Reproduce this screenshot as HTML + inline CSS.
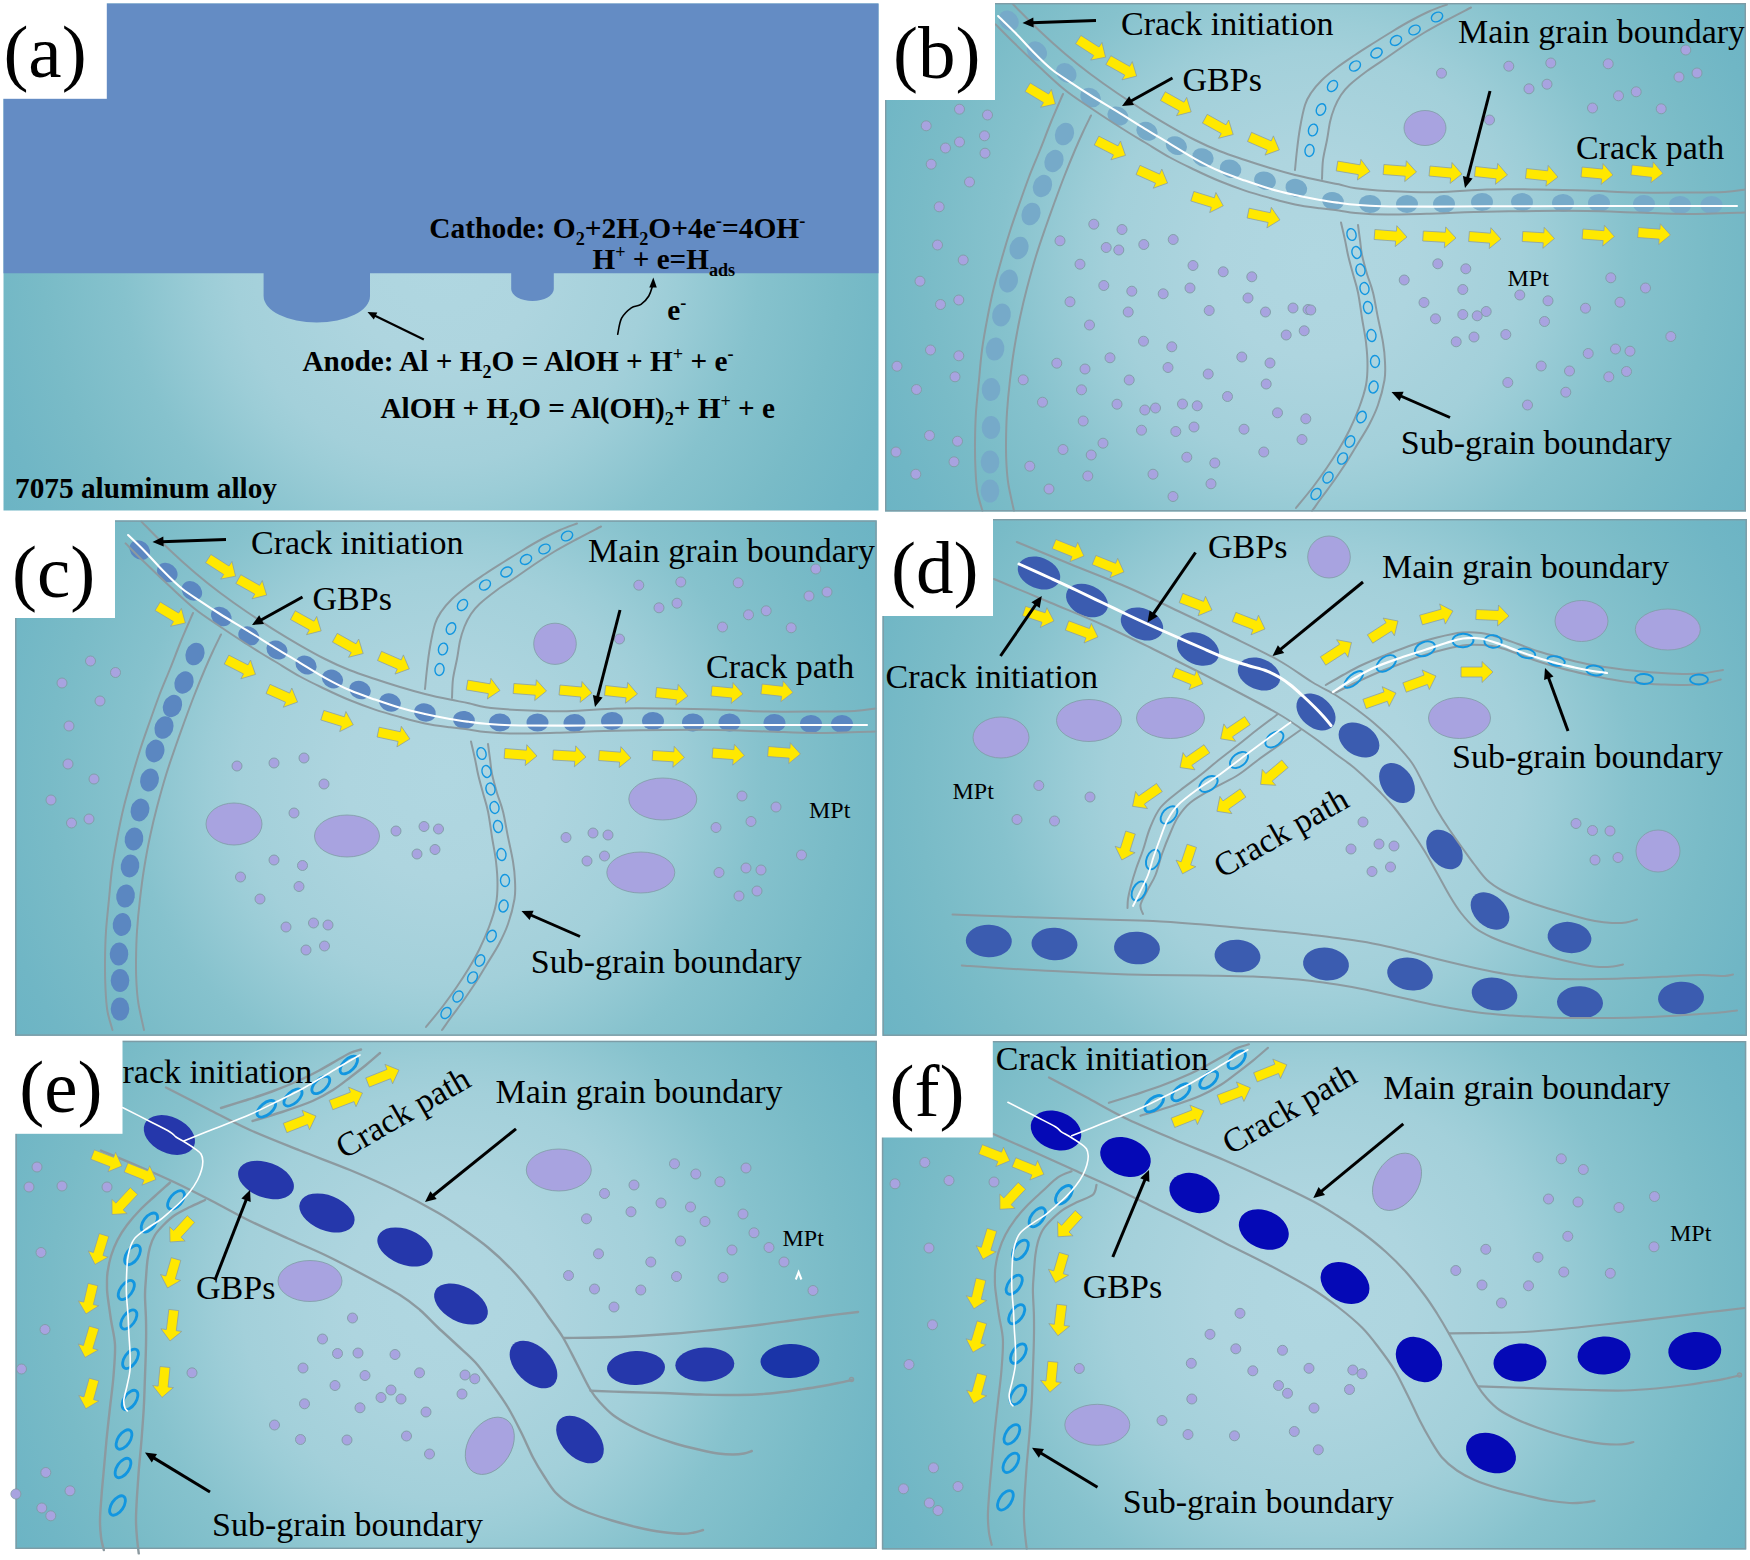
<!DOCTYPE html>
<html><head><meta charset="utf-8"><title>Figure</title>
<style>html,body{margin:0;padding:0;background:#fff}svg{display:block}</style></head>
<body>
<svg width="1750" height="1560" viewBox="0 0 1750 1560" font-family="'Liberation Serif', 'Times New Roman', serif">
<defs>
<radialGradient id="ga" gradientUnits="userSpaceOnUse" cx="0" cy="0" r="1" gradientTransform="translate(441 257) scale(505.6 505.6)">
<stop offset="0" stop-color="#b0d7e1"/><stop offset="0.2" stop-color="#aed5df"/><stop offset="0.41" stop-color="#a3d0da"/><stop offset="0.47" stop-color="#9ccdd7"/><stop offset="0.63" stop-color="#86c2cd"/><stop offset="0.79" stop-color="#79bbc7"/><stop offset="0.92" stop-color="#70b6c5"/><stop offset="1" stop-color="#6cb4c4"/>
</radialGradient>
<clipPath id="ca"><rect x="3.5" y="3.5" width="875" height="507"/></clipPath>
<radialGradient id="gb" gradientUnits="userSpaceOnUse" cx="0" cy="0" r="1" gradientTransform="translate(1315.5 257.2) scale(500 500)">
<stop offset="0" stop-color="#b0d7e1"/><stop offset="0.2" stop-color="#aed5df"/><stop offset="0.41" stop-color="#a3d0da"/><stop offset="0.47" stop-color="#9ccdd7"/><stop offset="0.63" stop-color="#86c2cd"/><stop offset="0.79" stop-color="#79bbc7"/><stop offset="0.92" stop-color="#70b6c5"/><stop offset="1" stop-color="#6cb4c4"/>
</radialGradient>
<clipPath id="cb"><rect x="885" y="3" width="861" height="508.5"/></clipPath>
<radialGradient id="gc" gradientUnits="userSpaceOnUse" cx="0" cy="0" r="1" gradientTransform="translate(445.9 778.1) scale(502 502)">
<stop offset="0" stop-color="#b0d7e1"/><stop offset="0.2" stop-color="#aed5df"/><stop offset="0.41" stop-color="#a3d0da"/><stop offset="0.47" stop-color="#9ccdd7"/><stop offset="0.63" stop-color="#86c2cd"/><stop offset="0.79" stop-color="#79bbc7"/><stop offset="0.92" stop-color="#70b6c5"/><stop offset="1" stop-color="#6cb4c4"/>
</radialGradient>
<clipPath id="cc"><rect x="15.1" y="520.4" width="861.6" height="511.3"/></clipPath>
<radialGradient id="gd" gradientUnits="userSpaceOnUse" cx="0" cy="0" r="1" gradientTransform="translate(1314.7 777.5) scale(503.6 503.6)">
<stop offset="0" stop-color="#b0d7e1"/><stop offset="0.2" stop-color="#aed5df"/><stop offset="0.41" stop-color="#a3d0da"/><stop offset="0.47" stop-color="#9ccdd7"/><stop offset="0.63" stop-color="#86c2cd"/><stop offset="0.79" stop-color="#79bbc7"/><stop offset="0.92" stop-color="#70b6c5"/><stop offset="1" stop-color="#6cb4c4"/>
</radialGradient>
<clipPath id="cd"><rect x="882.5" y="519" width="864.4" height="516.9"/></clipPath>
<radialGradient id="ge" gradientUnits="userSpaceOnUse" cx="0" cy="0" r="1" gradientTransform="translate(446.2 1294.9) scale(500.1 500.1)">
<stop offset="0" stop-color="#b0d7e1"/><stop offset="0.2" stop-color="#aed5df"/><stop offset="0.41" stop-color="#a3d0da"/><stop offset="0.47" stop-color="#9ccdd7"/><stop offset="0.63" stop-color="#86c2cd"/><stop offset="0.79" stop-color="#79bbc7"/><stop offset="0.92" stop-color="#70b6c5"/><stop offset="1" stop-color="#6cb4c4"/>
</radialGradient>
<clipPath id="ce"><rect x="15.5" y="1040.8" width="861.4" height="513.7"/></clipPath>
<radialGradient id="gf" gradientUnits="userSpaceOnUse" cx="0" cy="0" r="1" gradientTransform="translate(1314 1295.2) scale(501.4 501.4)">
<stop offset="0" stop-color="#b0d7e1"/><stop offset="0.2" stop-color="#aed5df"/><stop offset="0.41" stop-color="#a3d0da"/><stop offset="0.47" stop-color="#9ccdd7"/><stop offset="0.63" stop-color="#86c2cd"/><stop offset="0.79" stop-color="#79bbc7"/><stop offset="0.92" stop-color="#70b6c5"/><stop offset="1" stop-color="#6cb4c4"/>
</radialGradient>
<clipPath id="cf"><rect x="881.9" y="1041" width="864.3" height="513"/></clipPath>
</defs>
<rect width="1750" height="1560" fill="#fff"/>
<rect x="3.5" y="3.5" width="875" height="507" fill="url(#ga)"/>
<path d="M3.5 3.5H878.5V273.3H553.8V289a21.3 12 0 0 1 -42.6 0V273.3H370V296a53.2 26.5 0 0 1 -106.4 0V273.3H3.5Z" fill="#648cc4"/>
<rect x="0" y="0" width="106.8" height="98.8" fill="#fff"/>
<text x="3.4" y="77" font-size="75" >(a)</text>
<text x="429.3" y="237.6" font-size="29.3" font-weight="bold" textLength="376" lengthAdjust="spacingAndGlyphs">Cathode: O<tspan font-size="62%" dy="7">2</tspan><tspan dy="-7" font-size="1">&#8203;</tspan>+2H<tspan font-size="62%" dy="7">2</tspan><tspan dy="-7" font-size="1">&#8203;</tspan>O+4e<tspan font-size="62%" dy="-11">-</tspan><tspan dy="11" font-size="1">&#8203;</tspan>=4OH<tspan font-size="62%" dy="-11">-</tspan><tspan dy="11" font-size="1">&#8203;</tspan></text>
<text x="592.5" y="269.3" font-size="29.3" font-weight="bold" textLength="142.5" lengthAdjust="spacingAndGlyphs">H<tspan font-size="62%" dy="-11">+</tspan><tspan dy="11" font-size="1">&#8203;</tspan> + e=H<tspan font-size="62%" dy="7">ads</tspan><tspan dy="-7" font-size="1">&#8203;</tspan></text>
<text x="667.3" y="319.8" font-size="29.3" font-weight="bold">e<tspan font-size="62%" dy="-11">-</tspan><tspan dy="11" font-size="1">&#8203;</tspan></text>
<text x="302.5" y="370.5" font-size="29.3" font-weight="bold" textLength="431" lengthAdjust="spacingAndGlyphs">Anode: Al + H<tspan font-size="62%" dy="7">2</tspan><tspan dy="-7" font-size="1">&#8203;</tspan>O = AlOH + H<tspan font-size="62%" dy="-11">+</tspan><tspan dy="11" font-size="1">&#8203;</tspan> + e<tspan font-size="62%" dy="-11">-</tspan><tspan dy="11" font-size="1">&#8203;</tspan></text>
<text x="380.5" y="418.2" font-size="29.3" font-weight="bold" textLength="394.5" lengthAdjust="spacingAndGlyphs">AlOH + H<tspan font-size="62%" dy="7">2</tspan><tspan dy="-7" font-size="1">&#8203;</tspan>O = Al(OH)<tspan font-size="62%" dy="7">2</tspan><tspan dy="-7" font-size="1">&#8203;</tspan>+ H<tspan font-size="62%" dy="-11">+</tspan><tspan dy="11" font-size="1">&#8203;</tspan> + e</text>
<text x="15" y="497.7" font-size="29.3" font-weight="bold" textLength="262" lengthAdjust="spacingAndGlyphs">7075 aluminum alloy</text>
<line x1="423.8" y1="339.5" x2="374" y2="315.2" stroke="#000" stroke-width="2.2"/>
<polygon points="367.5,312 377.3,312.4 373.8,319.5" fill="#000"/>
<path d="M617.7 334.2C618.4 331.5 619.3 322.6 621.6 318.2C623.9 313.8 628.1 310.1 631.3 307.8C634.5 305.5 638.1 306.4 641 304.4C643.9 302.4 646.9 299.1 648.8 296C650.7 292.9 651.9 287.7 652.5 286" fill="none" stroke="#000" stroke-width="1.6" stroke-linecap="round" />
<polygon points="653.3,277.5 649.3,287.5 656.8,287.5" fill="#000"/>
<rect x="885" y="3" width="861" height="508.5" fill="url(#gb)"/>
<g clip-path="url(#cb)">
<ellipse cx="1008.8" cy="20.6" rx="11" ry="9" fill="#76aac9" transform="rotate(47.5 1008.8 20.6)"/>
<ellipse cx="1036.9" cy="51.3" rx="11" ry="9" fill="#76aac9" transform="rotate(42.3 1036.9 51.3)"/>
<ellipse cx="1066.3" cy="73" rx="11" ry="9" fill="#76aac9" transform="rotate(40.7 1066.3 73)"/>
<ellipse cx="1090.6" cy="97.5" rx="11" ry="9" fill="#76aac9" transform="rotate(39.8 1090.6 97.5)"/>
<ellipse cx="1118" cy="116" rx="11" ry="9" fill="#76aac9" transform="rotate(30.9 1118 116)"/>
<ellipse cx="1147" cy="131.3" rx="11" ry="9" fill="#76aac9" transform="rotate(26.9 1147 131.3)"/>
<ellipse cx="1176.3" cy="145.6" rx="11" ry="9" fill="#76aac9" transform="rotate(25.1 1176.3 145.6)"/>
<ellipse cx="1203" cy="157.5" rx="11" ry="9" fill="#76aac9" transform="rotate(23.1 1203 157.5)"/>
<ellipse cx="1230.6" cy="168.8" rx="11" ry="9" fill="#76aac9" transform="rotate(20.4 1230.6 168.8)"/>
<ellipse cx="1265" cy="180.6" rx="11" ry="9" fill="#76aac9" transform="rotate(16.3 1265 180.6)"/>
<ellipse cx="1296.3" cy="188" rx="11" ry="9" fill="#76aac9" transform="rotate(16.7 1296.3 188)"/>
<ellipse cx="1333" cy="201" rx="11" ry="9" fill="#76aac9" transform="rotate(12.2 1333 201)"/>
<ellipse cx="1370" cy="204" rx="11" ry="9" fill="#76aac9" transform="rotate(2.3 1370 204)"/>
<ellipse cx="1407" cy="204" rx="11" ry="9" fill="#76aac9"/>
<ellipse cx="1444" cy="204" rx="11" ry="9" fill="#76aac9" transform="rotate(-1.5 1444 204)"/>
<ellipse cx="1482" cy="202" rx="11" ry="9" fill="#76aac9" transform="rotate(-1.5 1482 202)"/>
<ellipse cx="1522" cy="202" rx="11" ry="9" fill="#76aac9" transform="rotate(0.7 1522 202)"/>
<ellipse cx="1563" cy="203" rx="11" ry="9" fill="#76aac9" transform="rotate(0.7 1563 203)"/>
<ellipse cx="1599" cy="203" rx="11" ry="9" fill="#76aac9" transform="rotate(0.7 1599 203)"/>
<ellipse cx="1644" cy="204" rx="11" ry="9" fill="#76aac9" transform="rotate(1.4 1644 204)"/>
<ellipse cx="1680" cy="205" rx="11" ry="9" fill="#76aac9" transform="rotate(0.8 1680 205)"/>
<ellipse cx="1711.5" cy="205" rx="11" ry="9" fill="#76aac9"/>
<ellipse cx="1064.5" cy="134" rx="11.5" ry="9.3" fill="#76aac9" transform="rotate(111.3 1064.5 134)"/>
<ellipse cx="1054" cy="161" rx="11.5" ry="9.3" fill="#76aac9" transform="rotate(112.9 1054 161)"/>
<ellipse cx="1042.5" cy="186" rx="11.5" ry="9.3" fill="#76aac9" transform="rotate(113.5 1042.5 186)"/>
<ellipse cx="1031" cy="214" rx="11.5" ry="9.3" fill="#76aac9" transform="rotate(110.8 1031 214)"/>
<ellipse cx="1019" cy="248" rx="11.5" ry="9.3" fill="#76aac9" transform="rotate(108.6 1019 248)"/>
<ellipse cx="1008.5" cy="281" rx="11.5" ry="9.3" fill="#76aac9" transform="rotate(104.6 1008.5 281)"/>
<ellipse cx="1001.5" cy="315" rx="11.5" ry="9.3" fill="#76aac9" transform="rotate(101.2 1001.5 315)"/>
<ellipse cx="995" cy="349" rx="11.5" ry="9.3" fill="#76aac9" transform="rotate(98 995 349)"/>
<ellipse cx="991" cy="389.5" rx="11.5" ry="9.3" fill="#76aac9" transform="rotate(92.9 991 389.5)"/>
<ellipse cx="991" cy="427.5" rx="11.5" ry="9.3" fill="#76aac9" transform="rotate(90.8 991 427.5)"/>
<ellipse cx="990" cy="462" rx="11.5" ry="9.3" fill="#76aac9" transform="rotate(90.9 990 462)"/>
<ellipse cx="990" cy="491" rx="11.5" ry="9.3" fill="#76aac9" transform="rotate(90 990 491)"/>
<path d="M1011.5 2.5C1012.1 3.1 1010.2 1.5 1015 6.3C1019.8 11.1 1031.7 23.4 1040 31.3C1048.3 39.2 1056.7 46.7 1065 53.8C1073.3 60.9 1081.3 67.3 1090 73.8C1098.7 80.3 1107.8 86.8 1117 93C1126.2 99.2 1136.2 105.8 1145 111.3C1153.8 116.8 1161.7 121.5 1170 126.3C1178.3 131.1 1186.7 135.8 1195 140C1203.3 144.2 1211.7 148 1220 151.3C1228.3 154.6 1236.7 157.2 1245 160C1253.3 162.8 1261.7 165.5 1270 168C1278.3 170.5 1286.7 172.9 1295 175C1303.3 177.1 1312.7 179 1320 180.6C1327.3 182.2 1332.8 183 1338.8 184.3C1344.8 185.6 1347.7 187.2 1355.7 188.3C1363.7 189.4 1373.5 190.3 1387 191C1400.5 191.7 1420.3 192.6 1437 192.3C1453.7 192.1 1470.3 190 1487 189.5C1503.7 189 1520.3 189.3 1537 189.5C1553.7 189.7 1570.3 190 1587 190.5C1603.7 191 1620.3 192.2 1637 192.5C1653.7 192.8 1672.4 192.6 1687 192.5C1701.6 192.4 1714.8 192.5 1724.5 192C1734.2 191.5 1742 189.9 1745.5 189.5" fill="none" stroke="#8c9aa0" stroke-width="2" stroke-linecap="round" />
<path d="M995.6 24.4C998.8 27.6 1007.6 36.6 1015 43.8C1022.4 51 1031.7 59.8 1040 67.5C1048.3 75.2 1056.7 83.3 1065 90C1073.3 96.7 1081.7 101.8 1090 107.5C1098.3 113.2 1108.3 119.7 1115 124C1121.7 128.3 1125 130.4 1130 133.5C1135 136.6 1138.3 138.5 1145 142.5C1151.7 146.5 1161.7 152.9 1170 157.5C1178.3 162.1 1186.7 166 1195 170C1203.3 174 1211.7 177.9 1220 181.3C1228.3 184.7 1236.7 187.8 1245 190.6C1253.3 193.4 1261.7 195.7 1270 198C1278.3 200.3 1286.7 202.7 1295 204.4C1303.3 206.1 1312.7 207.3 1320 208.3C1327.3 209.3 1332.8 209.7 1338.8 210.5C1344.8 211.3 1347.7 212.3 1355.7 213C1363.7 213.7 1373.5 214.5 1387 214.6C1400.5 214.7 1422.4 213.9 1437 213.5C1451.6 213.1 1457.8 212.4 1474.5 212C1491.2 211.6 1518.2 211.2 1537 211C1555.8 210.8 1570.3 210.8 1587 211C1603.7 211.2 1620.3 212 1637 212.5C1653.7 213 1668.9 214 1687 214C1705.1 214 1735.8 212.8 1745.5 212.5" fill="none" stroke="#8c9aa0" stroke-width="2" stroke-linecap="round" />
<path d="M1063 94C1061 98.7 1054.8 112.7 1051 122C1047.2 131.3 1043.7 140.8 1040 150C1036.3 159.2 1032.3 168.3 1029 177C1025.7 185.7 1023 193.5 1020 202C1017 210.5 1013.9 219 1011 228C1008.1 237 1005.3 246.2 1002.5 256C999.7 265.8 996.5 276.8 994 287C991.5 297.2 989.5 307 987.5 317.5C985.5 328 983.4 339.6 982 350C980.6 360.4 980 369.7 979 380C978 390.3 976.7 401.6 976 412C975.3 422.4 975.1 432.8 975 442.5C974.9 452.2 975.1 461.7 975.5 470C975.9 478.3 976.3 485.7 977.5 492.5C978.7 499.3 981.7 507.9 982.5 511" fill="none" stroke="#8c9aa0" stroke-width="2" stroke-linecap="round" />
<path d="M1091 115.5C1089.7 118.2 1085.7 126.2 1083 132C1080.3 137.8 1078.2 142.5 1075 150C1071.8 157.5 1067.3 168.5 1064 177C1060.7 185.5 1058.2 192.3 1055 201C1051.8 209.7 1048.2 219.8 1045 229C1041.8 238.2 1039 246.2 1036 256C1033 265.8 1029.7 277.8 1027 288C1024.3 298.2 1022.2 307.2 1020 317.5C1017.8 327.8 1015.7 339.6 1014 350C1012.3 360.4 1011.2 369.7 1010 380C1008.8 390.3 1007.7 401.6 1007 412C1006.3 422.4 1006.1 433.7 1006 442.5C1005.9 451.3 1006.1 457.9 1006.5 465C1006.9 472.1 1007.2 477.3 1008.5 485C1009.8 492.7 1013.1 506.7 1014 511" fill="none" stroke="#8c9aa0" stroke-width="2" stroke-linecap="round" />
<path d="M1295 170C1295.3 166.7 1296.2 157 1297 150C1297.8 143 1298.7 135.5 1300 128C1301.3 120.5 1303.2 110.8 1305 105C1306.8 99.2 1308.2 97.2 1311 93C1313.8 88.8 1317.7 84.2 1322 80C1326.3 75.8 1331.5 71.7 1337 67.5C1342.5 63.3 1348.8 59.2 1355 55C1361.2 50.8 1368.2 46.5 1374.5 42.5C1380.8 38.5 1386.8 34.8 1393 31C1399.2 27.2 1405.8 23.3 1412 20C1418.2 16.7 1424.2 13.6 1430 11C1435.8 8.4 1444.2 5.6 1447 4.5" fill="none" stroke="#8c9aa0" stroke-width="2" stroke-linecap="round" />
<path d="M1322 179C1322.2 175.8 1322.2 166.5 1323 160C1323.8 153.5 1325.8 146.3 1327 140C1328.2 133.7 1328.8 127.4 1330 122C1331.2 116.6 1332.7 112 1334.5 107.5C1336.3 103 1338.5 98.8 1341 95C1343.5 91.2 1345.2 89 1349.5 85C1353.8 81 1360.8 75.6 1367 71C1373.2 66.4 1380.7 61.8 1387 57.5C1393.3 53.2 1398.8 49.2 1405 45C1411.2 40.8 1417.5 36.7 1424.5 32.5C1431.5 28.3 1439.2 24.2 1447 20C1454.8 15.8 1467 9.6 1471 7.5" fill="none" stroke="#8c9aa0" stroke-width="2" stroke-linecap="round" />
<path d="M1341 222.5C1341.7 225.4 1343.8 234.6 1345 240C1346.2 245.4 1346.7 249.3 1348 255C1349.3 260.7 1351.3 267.8 1353 274C1354.7 280.2 1356.5 285.2 1358 292.5C1359.5 299.8 1360.7 309.7 1362 318C1363.3 326.3 1365.1 334.7 1366 342.5C1366.9 350.3 1367.5 357.9 1367.5 365C1367.5 372.1 1367.4 377.8 1366 385C1364.6 392.2 1361.8 400.5 1359 408C1356.2 415.5 1352.8 423.2 1349.5 430C1346.2 436.8 1342.8 442.8 1339 449C1335.2 455.2 1331.3 461.2 1327 467.5C1322.7 473.8 1318.2 480.2 1313 487C1307.8 493.8 1298.8 504.5 1296 508" fill="none" stroke="#8c9aa0" stroke-width="2" stroke-linecap="round" />
<path d="M1358 225C1358.3 227.5 1359.3 235 1360 240C1360.7 245 1360.8 249.3 1362 255C1363.2 260.7 1365.2 267.8 1367 274C1368.8 280.2 1371.2 285.2 1373 292.5C1374.8 299.8 1376.3 309.7 1378 318C1379.7 326.3 1381.8 335.2 1383 342.5C1384.2 349.8 1384.8 355.8 1385 362C1385.2 368.2 1385.7 372.8 1384.5 380C1383.3 387.2 1380.6 397.5 1378 405C1375.4 412.5 1372.5 418.3 1369 425C1365.5 431.7 1360.8 438.7 1357 445C1353.2 451.3 1349.8 457.2 1346 463C1342.2 468.8 1338.5 474.3 1334.5 480C1330.5 485.7 1325.8 491.8 1322 497C1318.2 502.2 1313.7 508.7 1312 511" fill="none" stroke="#8c9aa0" stroke-width="2" stroke-linecap="round" />
<path d="M998.1 16C1000.9 18.8 1009 26.4 1015 32.5C1021 38.6 1027.5 46.2 1033.8 52.5C1040 58.8 1046.2 65 1052.5 70C1058.8 75 1065 78.6 1071.3 82.8C1077.5 87 1082.4 90.2 1090 95C1097.6 99.8 1107.8 105.7 1117 111.3C1126.2 116.9 1136.2 123.4 1145 128.8C1153.8 134.2 1161.7 138.8 1170 143.8C1178.3 148.8 1186.7 154.2 1195 158.8C1203.3 163.4 1211.7 167.7 1220 171.3C1228.3 174.9 1236.7 177.7 1245 180.6C1253.3 183.5 1261.7 186.4 1270 188.8C1278.3 191.2 1286.7 193.1 1295 195C1303.3 196.9 1312.7 198.7 1320 200C1327.3 201.3 1332.8 202 1338.8 202.8C1344.8 203.6 1348.6 204.2 1355.7 204.8C1362.8 205.4 1367.9 206 1381.4 206.3C1395 206.6 1419.4 206.6 1437 206.6C1454.6 206.6 1462 206.4 1487 206.3C1512 206.2 1545.3 206.1 1587 206C1628.7 205.9 1712 206 1737 206" fill="none" stroke="#fff" stroke-width="2.1" stroke-linecap="round" />
<ellipse cx="1437" cy="17" rx="6" ry="4.5" fill="none" stroke="#1296e0" stroke-width="1.4" transform="rotate(150 1437 17)"/>
<ellipse cx="1414.5" cy="30" rx="6" ry="4.5" fill="none" stroke="#1296e0" stroke-width="1.4" transform="rotate(150.2 1414.5 30)"/>
<ellipse cx="1396" cy="40.5" rx="6" ry="4.5" fill="none" stroke="#1296e0" stroke-width="1.4" transform="rotate(148.8 1396 40.5)"/>
<ellipse cx="1376.5" cy="53" rx="6" ry="4.5" fill="none" stroke="#1296e0" stroke-width="1.4" transform="rotate(148.1 1376.5 53)"/>
<ellipse cx="1355" cy="66" rx="6" ry="4.5" fill="none" stroke="#1296e0" stroke-width="1.4" transform="rotate(143.1 1355 66)"/>
<ellipse cx="1332.5" cy="86" rx="6" ry="4.5" fill="none" stroke="#1296e0" stroke-width="1.4" transform="rotate(128 1332.5 86)"/>
<ellipse cx="1321" cy="109.5" rx="6" ry="4.5" fill="none" stroke="#1296e0" stroke-width="1.4" transform="rotate(113.9 1321 109.5)"/>
<ellipse cx="1313" cy="130" rx="6" ry="4.5" fill="none" stroke="#1296e0" stroke-width="1.4" transform="rotate(105.7 1313 130)"/>
<ellipse cx="1309.5" cy="150.5" rx="6" ry="4.5" fill="none" stroke="#1296e0" stroke-width="1.4" transform="rotate(99.7 1309.5 150.5)"/>
<ellipse cx="1351.5" cy="234.5" rx="6" ry="4.5" fill="none" stroke="#1296e0" stroke-width="1.4" transform="rotate(74.5 1351.5 234.5)"/>
<ellipse cx="1356.5" cy="252.5" rx="6" ry="4.5" fill="none" stroke="#1296e0" stroke-width="1.4" transform="rotate(75.8 1356.5 252.5)"/>
<ellipse cx="1360.5" cy="270" rx="6" ry="4.5" fill="none" stroke="#1296e0" stroke-width="1.4" transform="rotate(77.5 1360.5 270)"/>
<ellipse cx="1364.5" cy="288.5" rx="6" ry="4.5" fill="none" stroke="#1296e0" stroke-width="1.4" transform="rotate(78.7 1364.5 288.5)"/>
<ellipse cx="1368" cy="307.5" rx="6" ry="4.5" fill="none" stroke="#1296e0" stroke-width="1.4" transform="rotate(81.5 1368 307.5)"/>
<ellipse cx="1371.5" cy="335.5" rx="6" ry="4.5" fill="none" stroke="#1296e0" stroke-width="1.4" transform="rotate(82.6 1371.5 335.5)"/>
<ellipse cx="1375" cy="361.5" rx="6" ry="4.5" fill="none" stroke="#1296e0" stroke-width="1.4" transform="rotate(87.8 1375 361.5)"/>
<ellipse cx="1373.5" cy="387" rx="6" ry="4.5" fill="none" stroke="#1296e0" stroke-width="1.4" transform="rotate(103.7 1373.5 387)"/>
<ellipse cx="1361.5" cy="417" rx="6" ry="4.5" fill="none" stroke="#1296e0" stroke-width="1.4" transform="rotate(113.3 1361.5 417)"/>
<ellipse cx="1350" cy="441.5" rx="6" ry="4.5" fill="none" stroke="#1296e0" stroke-width="1.4" transform="rotate(114.6 1350 441.5)"/>
<ellipse cx="1342.5" cy="458.5" rx="6" ry="4.5" fill="none" stroke="#1296e0" stroke-width="1.4" transform="rotate(121.4 1342.5 458.5)"/>
<ellipse cx="1328" cy="477.5" rx="6" ry="4.5" fill="none" stroke="#1296e0" stroke-width="1.4" transform="rotate(126.7 1328 477.5)"/>
<ellipse cx="1316" cy="494" rx="6" ry="4.5" fill="none" stroke="#1296e0" stroke-width="1.4" transform="rotate(126 1316 494)"/>
<g fill="#a8a3e0" stroke="#7f9ca4" stroke-width="0.9">
<circle cx="959.5" cy="109.2" r="5.0"/>
<circle cx="987.5" cy="115" r="5.0"/>
<circle cx="926.2" cy="125.8" r="5.0"/>
<circle cx="984.5" cy="135.8" r="5.0"/>
<circle cx="959.5" cy="142" r="5.0"/>
<circle cx="945.5" cy="148" r="5.0"/>
<circle cx="985" cy="153.2" r="5.0"/>
<circle cx="931.2" cy="164.2" r="5.0"/>
<circle cx="969.5" cy="182" r="5.0"/>
<circle cx="939.2" cy="206.8" r="5.0"/>
<circle cx="1093.8" cy="224.2" r="5.0"/>
<circle cx="1122" cy="229.5" r="5.0"/>
<circle cx="1173.2" cy="239.5" r="5.0"/>
<circle cx="1060" cy="240.8" r="5.0"/>
<circle cx="937.5" cy="245" r="5.0"/>
<circle cx="1143.8" cy="244.5" r="5.0"/>
<circle cx="1106.2" cy="247.5" r="5.0"/>
<circle cx="1118.8" cy="250" r="5.0"/>
<circle cx="1441.5" cy="73.2" r="5.0"/>
<circle cx="1508.8" cy="66.2" r="5.0"/>
<circle cx="1550.8" cy="63" r="5.0"/>
<circle cx="1608.2" cy="63.8" r="5.0"/>
<circle cx="1685.8" cy="50" r="5.0"/>
<circle cx="1697" cy="73" r="5.0"/>
<circle cx="1679" cy="77" r="5.0"/>
<circle cx="1547" cy="84.2" r="5.0"/>
<circle cx="1529" cy="88.8" r="5.0"/>
<circle cx="1636.2" cy="91.8" r="5.0"/>
<circle cx="1618.5" cy="95.8" r="5.0"/>
<circle cx="1592.5" cy="108" r="5.0"/>
<circle cx="1661.2" cy="108.8" r="5.0"/>
<circle cx="1489.5" cy="120" r="5.0"/>
<circle cx="963.2" cy="260" r="5.0"/>
<circle cx="920" cy="281.2" r="5.0"/>
<circle cx="958.8" cy="300" r="5.0"/>
<circle cx="940.5" cy="304.5" r="5.0"/>
<circle cx="930.5" cy="350" r="5.0"/>
<circle cx="958.8" cy="355.8" r="5.0"/>
<circle cx="897" cy="366.2" r="5.0"/>
<circle cx="955" cy="376.8" r="5.0"/>
<circle cx="916.5" cy="389.5" r="5.0"/>
<circle cx="929.5" cy="435.5" r="5.0"/>
<circle cx="957.5" cy="441.2" r="5.0"/>
<circle cx="896" cy="452" r="5.0"/>
<circle cx="954" cy="461.8" r="5.0"/>
<circle cx="915.8" cy="474.2" r="5.0"/>
<circle cx="1080" cy="264.2" r="5.0"/>
<circle cx="1193" cy="265.5" r="5.0"/>
<circle cx="1223.2" cy="271.8" r="5.0"/>
<circle cx="1251.8" cy="276.8" r="5.0"/>
<circle cx="1103.8" cy="285.5" r="5.0"/>
<circle cx="1131.8" cy="291.2" r="5.0"/>
<circle cx="1163.2" cy="293.8" r="5.0"/>
<circle cx="1190" cy="288" r="5.0"/>
<circle cx="1248" cy="298" r="5.0"/>
<circle cx="1070" cy="301.8" r="5.0"/>
<circle cx="1128.2" cy="312" r="5.0"/>
<circle cx="1209.2" cy="310.5" r="5.0"/>
<circle cx="1265.5" cy="312" r="5.0"/>
<circle cx="1293" cy="308" r="5.0"/>
<circle cx="1308" cy="309.5" r="5.0"/>
<circle cx="1089.5" cy="325" r="5.0"/>
<circle cx="1304.2" cy="330.8" r="5.0"/>
<circle cx="1286.2" cy="335" r="5.0"/>
<circle cx="1143.5" cy="341.2" r="5.0"/>
<circle cx="1171.8" cy="346.8" r="5.0"/>
<circle cx="1110" cy="357.8" r="5.0"/>
<circle cx="1241.8" cy="357" r="5.0"/>
<circle cx="1270" cy="363" r="5.0"/>
<circle cx="1056.8" cy="363.2" r="5.0"/>
<circle cx="1085" cy="369" r="5.0"/>
<circle cx="1168" cy="367.5" r="5.0"/>
<circle cx="1208.2" cy="374" r="5.0"/>
<circle cx="1023.2" cy="379.8" r="5.0"/>
<circle cx="1129.2" cy="380" r="5.0"/>
<circle cx="1266.2" cy="384" r="5.0"/>
<circle cx="1081.5" cy="389.8" r="5.0"/>
<circle cx="1227.5" cy="396.5" r="5.0"/>
<circle cx="1042.5" cy="402.2" r="5.0"/>
<circle cx="1117" cy="404.2" r="5.0"/>
<circle cx="1144.8" cy="410" r="5.0"/>
<circle cx="1155.5" cy="408" r="5.0"/>
<circle cx="1182.5" cy="404" r="5.0"/>
<circle cx="1197.2" cy="405.8" r="5.0"/>
<circle cx="1277.5" cy="412.8" r="5.0"/>
<circle cx="1305.8" cy="418.8" r="5.0"/>
<circle cx="1083.2" cy="421" r="5.0"/>
<circle cx="1141.5" cy="430.2" r="5.0"/>
<circle cx="1175.8" cy="431.5" r="5.0"/>
<circle cx="1194" cy="427" r="5.0"/>
<circle cx="1244" cy="429.2" r="5.0"/>
<circle cx="1302" cy="439.5" r="5.0"/>
<circle cx="1103" cy="443.2" r="5.0"/>
<circle cx="1063" cy="449.5" r="5.0"/>
<circle cx="1091.2" cy="455" r="5.0"/>
<circle cx="1186.8" cy="457.2" r="5.0"/>
<circle cx="1263.8" cy="452" r="5.0"/>
<circle cx="1214.8" cy="463" r="5.0"/>
<circle cx="1029.8" cy="466.2" r="5.0"/>
<circle cx="1153" cy="474.2" r="5.0"/>
<circle cx="1087.8" cy="476" r="5.0"/>
<circle cx="1211" cy="483.8" r="5.0"/>
<circle cx="1049" cy="489" r="5.0"/>
<circle cx="1173" cy="496.5" r="5.0"/>
<circle cx="1437.8" cy="263.8" r="5.0"/>
<circle cx="1465.8" cy="268.8" r="5.0"/>
<circle cx="1404.2" cy="280" r="5.0"/>
<circle cx="1610.8" cy="277.8" r="5.0"/>
<circle cx="1645.5" cy="288" r="5.0"/>
<circle cx="1462.8" cy="289.5" r="5.0"/>
<circle cx="1519.8" cy="295" r="5.0"/>
<circle cx="1548" cy="300.8" r="5.0"/>
<circle cx="1424" cy="302.5" r="5.0"/>
<circle cx="1620" cy="302.2" r="5.0"/>
<circle cx="1585.5" cy="308.2" r="5.0"/>
<circle cx="1486.2" cy="311.5" r="5.0"/>
<circle cx="1462.8" cy="314.5" r="5.0"/>
<circle cx="1477.2" cy="315.8" r="5.0"/>
<circle cx="1435.5" cy="318.8" r="5.0"/>
<circle cx="1544.5" cy="321.5" r="5.0"/>
<circle cx="1505.8" cy="334.5" r="5.0"/>
<circle cx="1474" cy="337" r="5.0"/>
<circle cx="1456.2" cy="341.8" r="5.0"/>
<circle cx="1670.8" cy="336.5" r="5.0"/>
<circle cx="1615.5" cy="349" r="5.0"/>
<circle cx="1630" cy="351.2" r="5.0"/>
<circle cx="1588.2" cy="353.5" r="5.0"/>
<circle cx="1541.2" cy="366" r="5.0"/>
<circle cx="1569.5" cy="371" r="5.0"/>
<circle cx="1626.5" cy="371.5" r="5.0"/>
<circle cx="1608.8" cy="376.8" r="5.0"/>
<circle cx="1507.8" cy="382.5" r="5.0"/>
<circle cx="1565.8" cy="392.2" r="5.0"/>
<circle cx="1527.5" cy="405" r="5.0"/>
<circle cx="1310.8" cy="310" r="5.0"/>
</g>
<ellipse cx="1425" cy="128" rx="21" ry="17.5" fill="#a8a3e0" stroke="#7f9ca4" stroke-width="0.8"/>
<polygon points="1080.9,35.4 1099,47 1102,42.4 1105.6,57.2 1090.7,60.1 1093.6,55.5 1075.5,43.8" fill="#ffe800" stroke="#8aa0a8" stroke-width="0.8"/>
<polygon points="1110.8,55.7 1129.6,66.3 1132.3,61.6 1136.7,76.1 1122,79.8 1124.7,75.1 1105.8,64.5" fill="#ffe800" stroke="#8aa0a8" stroke-width="0.8"/>
<polygon points="1165.2,91.7 1184,102.2 1186.7,97.4 1191.2,111.9 1176.5,115.7 1179.2,110.9 1160.4,100.5" fill="#ffe800" stroke="#8aa0a8" stroke-width="0.8"/>
<polygon points="1207.2,114.3 1226,124.8 1228.7,120 1233.2,134.5 1218.5,138.3 1221.2,133.5 1202.4,123.1" fill="#ffe800" stroke="#8aa0a8" stroke-width="0.8"/>
<polygon points="1251.5,132.3 1271.2,140.9 1273.4,135.9 1279.3,149.9 1265,155.1 1267.2,150.1 1247.5,141.5" fill="#ffe800" stroke="#8aa0a8" stroke-width="0.8"/>
<polygon points="1030.2,82.9 1048.6,94 1051.4,89.3 1055.4,104 1040.6,107.3 1043.4,102.6 1025,91.5" fill="#ffe800" stroke="#8aa0a8" stroke-width="0.8"/>
<polygon points="1098.8,136.1 1118,145.9 1120.5,141 1125.5,155.4 1110.9,159.8 1113.4,154.9 1094.2,145.1" fill="#ffe800" stroke="#8aa0a8" stroke-width="0.8"/>
<polygon points="1140,165.3 1159.6,174.1 1161.8,169 1167.6,183.1 1153.3,188.2 1155.5,183.2 1136,174.5" fill="#ffe800" stroke="#8aa0a8" stroke-width="0.8"/>
<polygon points="1193.8,191.4 1214.3,197.8 1215.9,192.5 1223.3,205.8 1209.7,212.6 1211.3,207.3 1190.8,201" fill="#ffe800" stroke="#8aa0a8" stroke-width="0.8"/>
<polygon points="1249.1,208.2 1270.2,212.7 1271.3,207.3 1279.9,219.9 1266.9,227.9 1268.1,222.5 1247.1,218" fill="#ffe800" stroke="#8aa0a8" stroke-width="0.8"/>
<polygon points="1337.8,161.1 1360,164.8 1360.9,159.3 1370,171.5 1357.4,180 1358.3,174.6 1336.2,170.9" fill="#ffe800" stroke="#8aa0a8" stroke-width="0.8"/>
<polygon points="1383.9,164.5 1405.9,166.2 1406.3,160.7 1416.5,172 1404.7,181.6 1405.2,176.2 1383.1,174.5" fill="#ffe800" stroke="#8aa0a8" stroke-width="0.8"/>
<polygon points="1430,166 1451.5,168 1452,162.5 1462,174 1450.1,183.4 1450.6,178 1429,176" fill="#ffe800" stroke="#8aa0a8" stroke-width="0.8"/>
<polygon points="1475.5,166.5 1497.1,168.9 1497.7,163.4 1507.5,175 1495.4,184.3 1496,178.8 1474.5,176.5" fill="#ffe800" stroke="#8aa0a8" stroke-width="0.8"/>
<polygon points="1526.5,168.5 1547.6,170.8 1548.2,165.4 1558,177 1545.9,186.2 1546.5,180.8 1525.5,178.5" fill="#ffe800" stroke="#8aa0a8" stroke-width="0.8"/>
<polygon points="1582,167 1602.5,169 1603,163.5 1613,175 1601.1,184.4 1601.6,178.9 1581,177" fill="#ffe800" stroke="#8aa0a8" stroke-width="0.8"/>
<polygon points="1632.1,165 1652.6,167.3 1653.2,161.8 1663,173.5 1650.9,182.7 1651.5,177.3 1630.9,175" fill="#ffe800" stroke="#8aa0a8" stroke-width="0.8"/>
<polygon points="1374.9,229.5 1396.4,231.2 1396.8,225.7 1407,237 1395.2,246.6 1395.6,241.1 1374.1,239.5" fill="#ffe800" stroke="#8aa0a8" stroke-width="0.8"/>
<polygon points="1423.3,231 1445.3,232.3 1445.7,226.9 1456,238 1444.4,247.8 1444.7,242.3 1422.7,241" fill="#ffe800" stroke="#8aa0a8" stroke-width="0.8"/>
<polygon points="1469.4,231.5 1490.4,233.2 1490.9,227.7 1501,239 1489.2,248.6 1489.6,243.1 1468.6,241.5" fill="#ffe800" stroke="#8aa0a8" stroke-width="0.8"/>
<polygon points="1522.8,231.5 1543.8,232.8 1544.2,227.3 1554.5,238.5 1542.9,248.3 1543.2,242.8 1522.2,241.5" fill="#ffe800" stroke="#8aa0a8" stroke-width="0.8"/>
<polygon points="1582.9,229 1603.9,230.7 1604.4,225.2 1614.5,236.5 1602.7,246.1 1603.1,240.6 1582.1,239" fill="#ffe800" stroke="#8aa0a8" stroke-width="0.8"/>
<polygon points="1638.4,227.5 1659.9,229.2 1660.3,223.7 1670.5,235 1658.7,244.6 1659.1,239.1 1637.6,237.5" fill="#ffe800" stroke="#8aa0a8" stroke-width="0.8"/>
<line x1="1096" y1="20.5" x2="1031.3" y2="22.7" stroke="#000" stroke-width="3.0"/>
<polygon points="1022.5,23 1033.3,17.6 1033.7,27.6" fill="#000"/>
<line x1="1172.5" y1="78" x2="1129.7" y2="101.7" stroke="#000" stroke-width="3.0"/>
<polygon points="1122,106 1129.2,96.3 1134,105" fill="#000"/>
<line x1="1490" y1="91" x2="1467.2" y2="179.5" stroke="#000" stroke-width="3.0"/>
<polygon points="1465,188 1462.9,176.1 1472.6,178.6" fill="#000"/>
<line x1="1450" y1="417.5" x2="1399.6" y2="395.5" stroke="#000" stroke-width="3.0"/>
<polygon points="1391.5,392 1403.6,391.8 1399.6,401" fill="#000"/>
<text x="1121" y="35" font-size="34" >Crack initiation</text>
<text x="1182.5" y="90.5" font-size="34" >GBPs</text>
<text x="1458" y="42.5" font-size="34" >Main grain boundary</text>
<text x="1576" y="159" font-size="34" >Crack path</text>
<text x="1400.8" y="453.8" font-size="34" >Sub-grain boundary</text>
<text x="1507.5" y="286" font-size="24" >MPt</text>
</g>
<rect x="885.7" y="3.7" width="859.6" height="507.1" fill="none" stroke="#7d9ca6" stroke-width="1.4"/>
<rect x="880" y="0" width="115" height="100" fill="#fff"/>
<text x="893" y="77.6" font-size="75" >(b)</text>
<rect x="15.1" y="520.4" width="861.6" height="515.4" fill="url(#gc)"/>
<g clip-path="url(#cc)">
<ellipse cx="139.8" cy="550" rx="11" ry="9" fill="#5b87c1" transform="rotate(39.3 139.8 550)"/>
<ellipse cx="167.3" cy="572.5" rx="11" ry="9" fill="#5b87c1" transform="rotate(38.1 167.3 572.5)"/>
<ellipse cx="191.9" cy="590.9" rx="11" ry="9" fill="#5b87c1" transform="rotate(39.2 191.9 590.9)"/>
<ellipse cx="221.3" cy="616.5" rx="11" ry="9" fill="#5b87c1" transform="rotate(38.3 221.3 616.5)"/>
<ellipse cx="248.8" cy="635.9" rx="11" ry="9" fill="#5b87c1" transform="rotate(31 248.8 635.9)"/>
<ellipse cx="277" cy="650" rx="11" ry="9" fill="#5b87c1" transform="rotate(27 277 650)"/>
<ellipse cx="306" cy="665" rx="11" ry="9" fill="#5b87c1" transform="rotate(27.6 306 665)"/>
<ellipse cx="332.5" cy="679" rx="11" ry="9" fill="#5b87c1" transform="rotate(24.8 332.5 679)"/>
<ellipse cx="360" cy="690" rx="11" ry="9" fill="#5b87c1" transform="rotate(22.2 360 690)"/>
<ellipse cx="390" cy="702.5" rx="11" ry="9" fill="#5b87c1" transform="rotate(19.1 390 702.5)"/>
<ellipse cx="425" cy="712.5" rx="11" ry="9" fill="#5b87c1" transform="rotate(13.3 425 712.5)"/>
<ellipse cx="464" cy="720" rx="11" ry="9" fill="#5b87c1" transform="rotate(7.6 464 720)"/>
<ellipse cx="500" cy="722.5" rx="11" ry="9" fill="#5b87c1" transform="rotate(1.9 500 722.5)"/>
<ellipse cx="537.5" cy="722.5" rx="11" ry="9" fill="#5b87c1" transform="rotate(0.4 537.5 722.5)"/>
<ellipse cx="574.5" cy="723" rx="11" ry="9" fill="#5b87c1" transform="rotate(-1.2 574.5 723)"/>
<ellipse cx="612" cy="721" rx="11" ry="9" fill="#5b87c1" transform="rotate(-1.5 612 721)"/>
<ellipse cx="653" cy="721" rx="11" ry="9" fill="#5b87c1" transform="rotate(1.1 653 721)"/>
<ellipse cx="693" cy="722.5" rx="11" ry="9" fill="#5b87c1" transform="rotate(1.1 693 722.5)"/>
<ellipse cx="729.5" cy="722.5" rx="11" ry="9" fill="#5b87c1" transform="rotate(0.4 729.5 722.5)"/>
<ellipse cx="774.5" cy="723" rx="11" ry="9" fill="#5b87c1" transform="rotate(1.1 774.5 723)"/>
<ellipse cx="811" cy="724" rx="11" ry="9" fill="#5b87c1" transform="rotate(0.8 811 724)"/>
<ellipse cx="842" cy="724" rx="11" ry="9" fill="#5b87c1"/>
<ellipse cx="195" cy="654" rx="11.5" ry="9.3" fill="#5b87c1" transform="rotate(111.1 195 654)"/>
<ellipse cx="184" cy="682.5" rx="11.5" ry="9.3" fill="#5b87c1" transform="rotate(113.4 184 682.5)"/>
<ellipse cx="172.5" cy="706" rx="11.5" ry="9.3" fill="#5b87c1" transform="rotate(114 172.5 706)"/>
<ellipse cx="164" cy="727.5" rx="11.5" ry="9.3" fill="#5b87c1" transform="rotate(111.3 164 727.5)"/>
<ellipse cx="155" cy="751" rx="11.5" ry="9.3" fill="#5b87c1" transform="rotate(105.4 155 751)"/>
<ellipse cx="149.5" cy="780" rx="11.5" ry="9.3" fill="#5b87c1" transform="rotate(104.3 149.5 780)"/>
<ellipse cx="140" cy="810" rx="11.5" ry="9.3" fill="#5b87c1" transform="rotate(104.7 140 810)"/>
<ellipse cx="134" cy="839" rx="11.5" ry="9.3" fill="#5b87c1" transform="rotate(100.1 134 839)"/>
<ellipse cx="130" cy="866" rx="11.5" ry="9.3" fill="#5b87c1" transform="rotate(98.5 130 866)"/>
<ellipse cx="125.5" cy="896" rx="11.5" ry="9.3" fill="#5b87c1" transform="rotate(97.8 125.5 896)"/>
<ellipse cx="122" cy="924.5" rx="11.5" ry="9.3" fill="#5b87c1" transform="rotate(96.4 122 924.5)"/>
<ellipse cx="119" cy="954" rx="11.5" ry="9.3" fill="#5b87c1" transform="rotate(92 119 954)"/>
<ellipse cx="120" cy="980.5" rx="11.5" ry="9.3" fill="#5b87c1" transform="rotate(89 120 980.5)"/>
<ellipse cx="120" cy="1009" rx="11.5" ry="9.3" fill="#5b87c1" transform="rotate(90 120 1009)"/>
<path d="M141.5 521.5C142.1 522.1 140.2 520.5 145 525.3C149.8 530.1 161.7 542.4 170 550.3C178.3 558.2 186.7 565.7 195 572.8C203.3 579.9 211.3 586.3 220 592.8C228.7 599.3 237.8 605.8 247 612C256.2 618.2 266.2 624.8 275 630.3C283.8 635.8 291.7 640.5 300 645.3C308.3 650.1 316.7 654.8 325 659C333.3 663.2 341.7 667 350 670.3C358.3 673.6 366.7 676.2 375 679C383.3 681.8 391.7 684.5 400 687C408.3 689.5 416.7 691.9 425 694C433.3 696.1 442.7 698.1 450 699.6C457.3 701.1 462.8 702 468.8 703.3C474.7 704.6 477.7 706.2 485.7 707.3C493.7 708.4 503.4 709.3 517 710C530.5 710.7 550.3 711.5 567 711.3C583.7 711 600.3 709 617 708.5C633.7 708 650.3 708.3 667 708.5C683.7 708.7 700.3 709 717 709.5C733.7 710 750.3 711.2 767 711.5C783.7 711.8 802.4 711.6 817 711.5C831.6 711.4 844.8 711.5 854.5 711C864.2 710.5 872 708.9 875.5 708.5" fill="none" stroke="#8c9aa0" stroke-width="2" stroke-linecap="round" />
<path d="M125.6 543.4C128.8 546.6 137.6 555.6 145 562.8C152.4 570 161.7 578.8 170 586.5C178.3 594.2 186.7 602.3 195 609C203.3 615.7 211.7 620.8 220 626.5C228.3 632.2 238.3 638.7 245 643C251.7 647.3 255 649.4 260 652.5C265 655.6 268.3 657.5 275 661.5C281.7 665.5 291.7 671.9 300 676.5C308.3 681.1 316.7 685 325 689C333.3 693 341.7 696.9 350 700.3C358.3 703.7 366.7 706.8 375 709.6C383.3 712.4 391.7 714.7 400 717C408.3 719.3 416.7 721.7 425 723.4C433.3 725.1 442.7 726.3 450 727.3C457.3 728.3 462.8 728.7 468.8 729.5C474.7 730.3 477.7 731.3 485.7 732C493.7 732.7 503.4 733.5 517 733.6C530.5 733.7 552.4 732.9 567 732.5C581.6 732.1 587.8 731.4 604.5 731C621.2 730.6 648.2 730.2 667 730C685.8 729.8 700.3 729.8 717 730C733.7 730.2 750.3 731 767 731.5C783.7 732 798.9 733 817 733C835.1 733 865.8 731.8 875.5 731.5" fill="none" stroke="#8c9aa0" stroke-width="2" stroke-linecap="round" />
<path d="M193 613C191 617.7 184.8 631.7 181 641C177.2 650.3 173.7 659.8 170 669C166.3 678.2 162.3 687.3 159 696C155.7 704.7 153 712.5 150 721C147 729.5 143.9 738 141 747C138.1 756 135.3 765.2 132.5 775C129.7 784.8 126.5 795.8 124 806C121.5 816.2 119.5 826 117.5 836.5C115.5 847 113.4 858.6 112 869C110.6 879.4 110 888.7 109 899C108 909.3 106.7 920.6 106 931C105.3 941.4 105.1 951.8 105 961.5C104.9 971.2 105.1 980.7 105.5 989C105.9 997.3 106.3 1004.7 107.5 1011.5C108.7 1018.3 111.7 1026.9 112.5 1030" fill="none" stroke="#8c9aa0" stroke-width="2" stroke-linecap="round" />
<path d="M221 634.5C219.7 637.2 215.7 645.2 213 651C210.3 656.8 208.2 661.5 205 669C201.8 676.5 197.3 687.5 194 696C190.7 704.5 188.2 711.3 185 720C181.8 728.7 178.2 738.8 175 748C171.8 757.2 169 765.2 166 775C163 784.8 159.7 796.8 157 807C154.3 817.2 152.2 826.2 150 836.5C147.8 846.8 145.7 858.6 144 869C142.3 879.4 141.2 888.7 140 899C138.8 909.3 137.7 920.6 137 931C136.3 941.4 136.1 952.7 136 961.5C135.9 970.3 136.1 976.9 136.5 984C136.9 991.1 137.2 996.3 138.5 1004C139.8 1011.7 143.1 1025.7 144 1030" fill="none" stroke="#8c9aa0" stroke-width="2" stroke-linecap="round" />
<path d="M425 689C425.3 685.7 426.2 676 427 669C427.8 662 428.7 654.5 430 647C431.3 639.5 433.2 629.8 435 624C436.8 618.2 438.2 616.2 441 612C443.8 607.8 447.7 603.2 452 599C456.3 594.8 461.5 590.7 467 586.5C472.5 582.3 478.8 578.2 485 574C491.2 569.8 498.2 565.5 504.5 561.5C510.8 557.5 516.8 553.8 523 550C529.2 546.2 535.8 542.3 542 539C548.2 535.7 554.2 532.6 560 530C565.8 527.4 574.2 524.6 577 523.5" fill="none" stroke="#8c9aa0" stroke-width="2" stroke-linecap="round" />
<path d="M452 698C452.2 694.8 452.2 685.5 453 679C453.8 672.5 455.8 665.3 457 659C458.2 652.7 458.8 646.4 460 641C461.2 635.6 462.7 631 464.5 626.5C466.3 622 468.5 617.8 471 614C473.5 610.2 475.2 608 479.5 604C483.8 600 490.8 594.6 497 590C503.2 585.4 510.7 580.8 517 576.5C523.3 572.2 528.8 568.2 535 564C541.2 559.8 547.5 555.7 554.5 551.5C561.5 547.3 569.2 543.2 577 539C584.8 534.8 597 528.6 601 526.5" fill="none" stroke="#8c9aa0" stroke-width="2" stroke-linecap="round" />
<path d="M471 741.5C471.7 744.4 473.8 753.6 475 759C476.2 764.4 476.7 768.3 478 774C479.3 779.7 481.3 786.8 483 793C484.7 799.2 486.5 804.2 488 811.5C489.5 818.8 490.7 828.7 492 837C493.3 845.3 495.1 853.7 496 861.5C496.9 869.3 497.5 876.9 497.5 884C497.5 891.1 497.4 896.8 496 904C494.6 911.2 491.8 919.5 489 927C486.2 934.5 482.8 942.2 479.5 949C476.2 955.8 472.8 961.8 469 968C465.2 974.2 461.3 980.2 457 986.5C452.7 992.8 448.2 999.2 443 1006C437.8 1012.8 428.8 1023.5 426 1027" fill="none" stroke="#8c9aa0" stroke-width="2" stroke-linecap="round" />
<path d="M488 744C488.3 746.5 489.3 754 490 759C490.7 764 490.8 768.3 492 774C493.2 779.7 495.2 786.8 497 793C498.8 799.2 501.2 804.2 503 811.5C504.8 818.8 506.3 828.7 508 837C509.7 845.3 511.8 854.2 513 861.5C514.2 868.8 514.8 874.8 515 881C515.2 887.2 515.7 891.8 514.5 899C513.3 906.2 510.6 916.5 508 924C505.4 931.5 502.5 937.3 499 944C495.5 950.7 490.8 957.7 487 964C483.2 970.3 479.8 976.2 476 982C472.2 987.8 468.5 993.3 464.5 999C460.5 1004.7 455.8 1010.8 452 1016C448.2 1021.2 443.7 1027.7 442 1030" fill="none" stroke="#8c9aa0" stroke-width="2" stroke-linecap="round" />
<path d="M128.1 535C130.9 537.8 139.1 545.4 145 551.5C150.9 557.6 157.5 565.2 163.8 571.5C170 577.8 176.2 584 182.5 589C188.8 594 195 597.6 201.3 601.8C207.5 606 212.4 609.2 220 614C227.6 618.8 237.8 624.7 247 630.3C256.2 635.9 266.2 642.4 275 647.8C283.8 653.2 291.7 657.8 300 662.8C308.3 667.8 316.7 673.2 325 677.8C333.3 682.4 341.7 686.7 350 690.3C358.3 693.9 366.7 696.7 375 699.6C383.3 702.5 391.7 705.4 400 707.8C408.3 710.2 416.7 712.1 425 714C433.3 715.9 442.7 717.7 450 719C457.3 720.3 462.8 721 468.8 721.8C474.7 722.6 478.6 723.2 485.7 723.8C492.8 724.4 497.9 725 511.4 725.3C525 725.6 549.4 725.6 567 725.6C584.6 725.6 592 725.4 617 725.3C642 725.2 675.3 725 717 725C758.7 725 842 725 867 725" fill="none" stroke="#fff" stroke-width="2.1" stroke-linecap="round" />
<ellipse cx="567" cy="536" rx="6" ry="4.5" fill="none" stroke="#1296e0" stroke-width="1.4" transform="rotate(150 567 536)"/>
<ellipse cx="544.5" cy="549" rx="6" ry="4.5" fill="none" stroke="#1296e0" stroke-width="1.4" transform="rotate(150.2 544.5 549)"/>
<ellipse cx="526" cy="559.5" rx="6" ry="4.5" fill="none" stroke="#1296e0" stroke-width="1.4" transform="rotate(148.8 526 559.5)"/>
<ellipse cx="506.5" cy="572" rx="6" ry="4.5" fill="none" stroke="#1296e0" stroke-width="1.4" transform="rotate(148.1 506.5 572)"/>
<ellipse cx="485" cy="585" rx="6" ry="4.5" fill="none" stroke="#1296e0" stroke-width="1.4" transform="rotate(143.1 485 585)"/>
<ellipse cx="462.5" cy="605" rx="6" ry="4.5" fill="none" stroke="#1296e0" stroke-width="1.4" transform="rotate(128 462.5 605)"/>
<ellipse cx="451" cy="628.5" rx="6" ry="4.5" fill="none" stroke="#1296e0" stroke-width="1.4" transform="rotate(113.9 451 628.5)"/>
<ellipse cx="443" cy="649" rx="6" ry="4.5" fill="none" stroke="#1296e0" stroke-width="1.4" transform="rotate(105.7 443 649)"/>
<ellipse cx="439.5" cy="669.5" rx="6" ry="4.5" fill="none" stroke="#1296e0" stroke-width="1.4" transform="rotate(99.7 439.5 669.5)"/>
<ellipse cx="481.5" cy="753.5" rx="6" ry="4.5" fill="none" stroke="#1296e0" stroke-width="1.4" transform="rotate(74.5 481.5 753.5)"/>
<ellipse cx="486.5" cy="771.5" rx="6" ry="4.5" fill="none" stroke="#1296e0" stroke-width="1.4" transform="rotate(75.8 486.5 771.5)"/>
<ellipse cx="490.5" cy="789" rx="6" ry="4.5" fill="none" stroke="#1296e0" stroke-width="1.4" transform="rotate(77.5 490.5 789)"/>
<ellipse cx="494.5" cy="807.5" rx="6" ry="4.5" fill="none" stroke="#1296e0" stroke-width="1.4" transform="rotate(78.7 494.5 807.5)"/>
<ellipse cx="498" cy="826.5" rx="6" ry="4.5" fill="none" stroke="#1296e0" stroke-width="1.4" transform="rotate(81.5 498 826.5)"/>
<ellipse cx="501.5" cy="854.5" rx="6" ry="4.5" fill="none" stroke="#1296e0" stroke-width="1.4" transform="rotate(82.6 501.5 854.5)"/>
<ellipse cx="505" cy="880.5" rx="6" ry="4.5" fill="none" stroke="#1296e0" stroke-width="1.4" transform="rotate(87.8 505 880.5)"/>
<ellipse cx="503.5" cy="906" rx="6" ry="4.5" fill="none" stroke="#1296e0" stroke-width="1.4" transform="rotate(103.7 503.5 906)"/>
<ellipse cx="491.5" cy="936" rx="6" ry="4.5" fill="none" stroke="#1296e0" stroke-width="1.4" transform="rotate(113.3 491.5 936)"/>
<ellipse cx="480" cy="960.5" rx="6" ry="4.5" fill="none" stroke="#1296e0" stroke-width="1.4" transform="rotate(114.6 480 960.5)"/>
<ellipse cx="472.5" cy="977.5" rx="6" ry="4.5" fill="none" stroke="#1296e0" stroke-width="1.4" transform="rotate(121.4 472.5 977.5)"/>
<ellipse cx="458" cy="996.5" rx="6" ry="4.5" fill="none" stroke="#1296e0" stroke-width="1.4" transform="rotate(126.7 458 996.5)"/>
<ellipse cx="446" cy="1013" rx="6" ry="4.5" fill="none" stroke="#1296e0" stroke-width="1.4" transform="rotate(126 446 1013)"/>
<g fill="#a8a3e0" stroke="#7f9ca4" stroke-width="0.9">
<circle cx="90.5" cy="661" r="5.0"/>
<circle cx="115.5" cy="672.5" r="5.0"/>
<circle cx="62" cy="683" r="5.0"/>
<circle cx="100" cy="701" r="5.0"/>
<circle cx="69" cy="726" r="5.0"/>
<circle cx="304" cy="758" r="5.0"/>
<circle cx="274" cy="763" r="5.0"/>
<circle cx="237" cy="766" r="5.0"/>
<circle cx="68" cy="764" r="5.0"/>
<circle cx="638.8" cy="585.2" r="5.0"/>
<circle cx="680.8" cy="582" r="5.0"/>
<circle cx="738.2" cy="582.8" r="5.0"/>
<circle cx="815.8" cy="569" r="5.0"/>
<circle cx="827" cy="592" r="5.0"/>
<circle cx="809" cy="596" r="5.0"/>
<circle cx="677" cy="603.2" r="5.0"/>
<circle cx="659" cy="607.8" r="5.0"/>
<circle cx="766.2" cy="610.8" r="5.0"/>
<circle cx="748.5" cy="614.8" r="5.0"/>
<circle cx="722.5" cy="627" r="5.0"/>
<circle cx="791.2" cy="627.8" r="5.0"/>
<circle cx="619.5" cy="639" r="5.0"/>
<circle cx="94" cy="779" r="5.0"/>
<circle cx="51" cy="800" r="5.0"/>
<circle cx="89" cy="819" r="5.0"/>
<circle cx="71.5" cy="823" r="5.0"/>
<circle cx="324" cy="784" r="5.0"/>
<circle cx="294" cy="813" r="5.0"/>
<circle cx="396" cy="831" r="5.0"/>
<circle cx="424" cy="826.5" r="5.0"/>
<circle cx="438.5" cy="829" r="5.0"/>
<circle cx="435" cy="849.5" r="5.0"/>
<circle cx="417" cy="854" r="5.0"/>
<circle cx="274" cy="860" r="5.0"/>
<circle cx="302.5" cy="865.5" r="5.0"/>
<circle cx="240.5" cy="877" r="5.0"/>
<circle cx="299" cy="886.5" r="5.0"/>
<circle cx="260" cy="899" r="5.0"/>
<circle cx="286" cy="927" r="5.0"/>
<circle cx="313.5" cy="923" r="5.0"/>
<circle cx="328" cy="925" r="5.0"/>
<circle cx="324.5" cy="946" r="5.0"/>
<circle cx="306" cy="950" r="5.0"/>
<circle cx="742" cy="796" r="5.0"/>
<circle cx="776" cy="807" r="5.0"/>
<circle cx="751" cy="821.5" r="5.0"/>
<circle cx="716" cy="827.5" r="5.0"/>
<circle cx="566" cy="837.5" r="5.0"/>
<circle cx="593" cy="833" r="5.0"/>
<circle cx="608" cy="835" r="5.0"/>
<circle cx="604.5" cy="856" r="5.0"/>
<circle cx="587" cy="861" r="5.0"/>
<circle cx="801.5" cy="855" r="5.0"/>
<circle cx="746" cy="868" r="5.0"/>
<circle cx="761" cy="870" r="5.0"/>
<circle cx="719" cy="872.5" r="5.0"/>
<circle cx="757" cy="891" r="5.0"/>
<circle cx="739" cy="896" r="5.0"/>
</g>
<ellipse cx="555" cy="643.8" rx="21.3" ry="20.6" fill="#a8a3e0" stroke="#7f9ca4" stroke-width="0.8"/>
<ellipse cx="234" cy="824" rx="28" ry="21" fill="#a8a3e0" stroke="#7f9ca4" stroke-width="0.8"/>
<ellipse cx="347" cy="836" rx="32.5" ry="21" fill="#a8a3e0" stroke="#7f9ca4" stroke-width="0.8"/>
<ellipse cx="662.8" cy="799" rx="34" ry="21" fill="#a8a3e0" stroke="#7f9ca4" stroke-width="0.8"/>
<ellipse cx="640.8" cy="872.5" rx="34" ry="20.5" fill="#a8a3e0" stroke="#7f9ca4" stroke-width="0.8"/>
<polygon points="210.9,554.4 229,566 232,561.4 235.6,576.2 220.7,579.1 223.6,574.5 205.5,562.8" fill="#ffe800" stroke="#8aa0a8" stroke-width="0.8"/>
<polygon points="240.8,574.7 259.6,585.3 262.3,580.6 266.7,595.1 252,598.8 254.7,594.1 235.8,583.5" fill="#ffe800" stroke="#8aa0a8" stroke-width="0.8"/>
<polygon points="295.2,610.7 314,621.2 316.7,616.4 321.2,630.9 306.5,634.7 309.2,629.9 290.4,619.5" fill="#ffe800" stroke="#8aa0a8" stroke-width="0.8"/>
<polygon points="337.2,633.3 356,643.8 358.7,639 363.2,653.5 348.5,657.3 351.2,652.5 332.4,642.1" fill="#ffe800" stroke="#8aa0a8" stroke-width="0.8"/>
<polygon points="381.5,651.3 401.2,659.9 403.4,654.9 409.3,668.9 395,674.1 397.2,669.1 377.5,660.5" fill="#ffe800" stroke="#8aa0a8" stroke-width="0.8"/>
<polygon points="160.2,601.9 178.6,613 181.4,608.3 185.4,623 170.6,626.3 173.4,621.6 155,610.5" fill="#ffe800" stroke="#8aa0a8" stroke-width="0.8"/>
<polygon points="228.8,655.1 248,664.9 250.5,660 255.5,674.4 240.9,678.8 243.4,673.9 224.2,664.1" fill="#ffe800" stroke="#8aa0a8" stroke-width="0.8"/>
<polygon points="270,684.3 289.6,693.1 291.8,688 297.6,702.1 283.3,707.2 285.5,702.2 266,693.5" fill="#ffe800" stroke="#8aa0a8" stroke-width="0.8"/>
<polygon points="323.8,710.4 344.3,716.8 345.9,711.5 353.3,724.8 339.7,731.6 341.3,726.3 320.8,720" fill="#ffe800" stroke="#8aa0a8" stroke-width="0.8"/>
<polygon points="379.1,727.2 400.2,731.7 401.3,726.3 409.9,738.9 396.9,746.9 398.1,741.5 377.1,737" fill="#ffe800" stroke="#8aa0a8" stroke-width="0.8"/>
<polygon points="467.8,680.1 490,683.8 490.9,678.3 500,690.5 487.4,699 488.3,693.6 466.2,689.9" fill="#ffe800" stroke="#8aa0a8" stroke-width="0.8"/>
<polygon points="513.9,683.5 535.9,685.2 536.3,679.7 546.5,691 534.7,700.6 535.2,695.2 513.1,693.5" fill="#ffe800" stroke="#8aa0a8" stroke-width="0.8"/>
<polygon points="560,685 581.5,687 582,681.5 592,693 580.1,702.4 580.6,697 559,695" fill="#ffe800" stroke="#8aa0a8" stroke-width="0.8"/>
<polygon points="605.5,685.5 627.1,687.9 627.7,682.4 637.5,694 625.4,703.3 626,697.8 604.5,695.5" fill="#ffe800" stroke="#8aa0a8" stroke-width="0.8"/>
<polygon points="656.5,687.5 677.6,689.8 678.2,684.4 688,696 675.9,705.2 676.5,699.8 655.5,697.5" fill="#ffe800" stroke="#8aa0a8" stroke-width="0.8"/>
<polygon points="712,686 732.5,688 733,682.5 743,694 731.1,703.4 731.6,697.9 711,696" fill="#ffe800" stroke="#8aa0a8" stroke-width="0.8"/>
<polygon points="762.1,684 782.6,686.3 783.2,680.8 793,692.5 780.9,701.7 781.5,696.3 760.9,694" fill="#ffe800" stroke="#8aa0a8" stroke-width="0.8"/>
<polygon points="504.9,748.5 526.4,750.2 526.8,744.7 537,756 525.2,765.6 525.6,760.1 504.1,758.5" fill="#ffe800" stroke="#8aa0a8" stroke-width="0.8"/>
<polygon points="553.3,750 575.3,751.3 575.7,745.9 586,757 574.4,766.8 574.7,761.3 552.7,760" fill="#ffe800" stroke="#8aa0a8" stroke-width="0.8"/>
<polygon points="599.4,750.5 620.4,752.2 620.9,746.7 631,758 619.2,767.6 619.6,762.1 598.6,760.5" fill="#ffe800" stroke="#8aa0a8" stroke-width="0.8"/>
<polygon points="652.8,750.5 673.8,751.8 674.2,746.3 684.5,757.5 672.9,767.3 673.2,761.8 652.2,760.5" fill="#ffe800" stroke="#8aa0a8" stroke-width="0.8"/>
<polygon points="712.9,748 733.9,749.7 734.4,744.2 744.5,755.5 732.7,765.1 733.1,759.6 712.1,758" fill="#ffe800" stroke="#8aa0a8" stroke-width="0.8"/>
<polygon points="768.4,746.5 789.9,748.2 790.3,742.7 800.5,754 788.7,763.6 789.1,758.1 767.6,756.5" fill="#ffe800" stroke="#8aa0a8" stroke-width="0.8"/>
<line x1="226" y1="539.5" x2="161.3" y2="541.7" stroke="#000" stroke-width="3.0"/>
<polygon points="152.5,542 163.3,536.6 163.7,546.6" fill="#000"/>
<line x1="302.5" y1="597" x2="259.7" y2="620.7" stroke="#000" stroke-width="3.0"/>
<polygon points="252,625 259.2,615.3 264,624" fill="#000"/>
<line x1="620" y1="610" x2="597.2" y2="698.5" stroke="#000" stroke-width="3.0"/>
<polygon points="595,707 592.9,695.1 602.6,697.6" fill="#000"/>
<line x1="580" y1="936.5" x2="529.6" y2="914.5" stroke="#000" stroke-width="3.0"/>
<polygon points="521.5,911 533.6,910.8 529.6,920" fill="#000"/>
<text x="251" y="554" font-size="34" >Crack initiation</text>
<text x="312.5" y="609.5" font-size="34" >GBPs</text>
<text x="588" y="561.5" font-size="34" >Main grain boundary</text>
<text x="706" y="678" font-size="34" >Crack path</text>
<text x="530.8" y="973.4" font-size="34" >Sub-grain boundary</text>
<text x="809" y="817.5" font-size="24" >MPt</text>
</g>
<rect x="15.8" y="521.1" width="860.2" height="514" fill="none" stroke="#7d9ca6" stroke-width="1.4"/>
<rect x="0" y="515" width="115" height="103" fill="#fff"/>
<text x="12" y="596.5" font-size="75" >(c)</text>
<rect x="882.5" y="519" width="864.4" height="516.9" fill="url(#gd)"/>
<g clip-path="url(#cd)">
<ellipse cx="1039" cy="573" rx="22" ry="15.5" fill="#3b5cb0" transform="rotate(22 1039 573)"/>
<ellipse cx="1087" cy="600.5" rx="22" ry="15.5" fill="#3b5cb0" transform="rotate(25 1087 600.5)"/>
<ellipse cx="1142" cy="624" rx="22" ry="15.5" fill="#3b5cb0" transform="rotate(22 1142 624)"/>
<ellipse cx="1198" cy="649" rx="22" ry="15.5" fill="#3b5cb0" transform="rotate(24 1198 649)"/>
<ellipse cx="1259" cy="674" rx="22" ry="15.5" fill="#3b5cb0" transform="rotate(22 1259 674)"/>
<ellipse cx="1316" cy="712" rx="22" ry="15.5" fill="#3b5cb0" transform="rotate(40 1316 712)"/>
<ellipse cx="1359" cy="740" rx="22" ry="15.5" fill="#3b5cb0" transform="rotate(32 1359 740)"/>
<ellipse cx="1397" cy="783" rx="22" ry="15.5" fill="#3b5cb0" transform="rotate(55 1397 783)"/>
<ellipse cx="1444.5" cy="849.5" rx="22" ry="15.5" fill="#3b5cb0" transform="rotate(52 1444.5 849.5)"/>
<ellipse cx="1490" cy="911" rx="22" ry="15.5" fill="#3b5cb0" transform="rotate(42 1490 911)"/>
<ellipse cx="1569.5" cy="937.5" rx="22" ry="15.5" fill="#3b5cb0" transform="rotate(8 1569.5 937.5)"/>
<ellipse cx="988.8" cy="941" rx="23" ry="16.3" fill="#3b5cb0" transform="rotate(2 988.8 941)"/>
<ellipse cx="1054.5" cy="944" rx="23" ry="16.3" fill="#3b5cb0" transform="rotate(3 1054.5 944)"/>
<ellipse cx="1137" cy="948" rx="23" ry="16.3" fill="#3b5cb0" transform="rotate(4 1137 948)"/>
<ellipse cx="1237.5" cy="956" rx="23" ry="16.3" fill="#3b5cb0" transform="rotate(5 1237.5 956)"/>
<ellipse cx="1326" cy="964" rx="23" ry="16.3" fill="#3b5cb0" transform="rotate(6 1326 964)"/>
<ellipse cx="1410" cy="974" rx="23" ry="16.3" fill="#3b5cb0" transform="rotate(10 1410 974)"/>
<ellipse cx="1494.5" cy="994" rx="23" ry="16.3" fill="#3b5cb0" transform="rotate(10 1494.5 994)"/>
<ellipse cx="1580" cy="1002.5" rx="23" ry="16.3" fill="#3b5cb0" transform="rotate(3 1580 1002.5)"/>
<ellipse cx="1681" cy="998" rx="23" ry="16.3" fill="#3b5cb0" transform="rotate(-3 1681 998)"/>
<path d="M1016.8 542C1025.7 545.7 1051.5 556.4 1070 564C1088.5 571.6 1110 579.7 1128 587.5C1146 595.3 1161.3 603.1 1178 611C1194.7 618.9 1211.3 626.8 1228 635C1244.7 643.2 1264 652.2 1278 660C1292 667.8 1302.2 676 1312 682C1321.8 688 1329.7 691.5 1337 696C1344.3 700.5 1349.8 704.4 1356 709C1362.2 713.6 1368.2 718 1374.5 723.5C1380.8 729 1387.8 735.4 1394 742C1400.2 748.6 1407 755.8 1412 763C1417 770.2 1419.8 777.2 1424 785C1428.2 792.8 1432.8 802.7 1437 810C1441.2 817.3 1444.8 822.8 1449 829C1453.2 835.2 1457.8 841.7 1462 847.5C1466.2 853.3 1469.8 858.6 1474 864C1478.2 869.4 1482.2 875.5 1487 880C1491.8 884.5 1496.8 887.6 1503 891C1509.2 894.4 1516.7 897.5 1524.5 900.5C1532.3 903.5 1541.7 906.4 1550 909C1558.3 911.6 1567 914 1574.5 916C1582 918 1588.8 919.8 1595 921C1601.2 922.2 1606.8 922.8 1612 923C1617.2 923.2 1621.8 923.1 1626 922.5C1630.2 921.9 1635.2 920 1637 919.5" fill="none" stroke="#8c9aa0" stroke-width="2" stroke-linecap="round" />
<path d="M994 579C1003.3 582.9 1031.8 594.8 1050 602.5C1068.2 610.2 1085.8 617.2 1103 625C1120.2 632.8 1136.3 640.8 1153 649C1169.7 657.2 1186.3 665.5 1203 674C1219.7 682.5 1239.8 693 1253 700C1266.2 707 1273.7 711 1282 716C1290.3 721 1296.7 725.7 1303 730C1309.3 734.3 1314.3 737.8 1320 742C1325.7 746.2 1331.7 751 1337 755C1342.3 759 1347.4 762.3 1352 766C1356.6 769.7 1359.8 772.7 1364.5 777C1369.2 781.3 1375 786.8 1380 792C1385 797.2 1389.5 801.8 1394.5 808C1399.5 814.2 1405 821.8 1410 829C1415 836.2 1420 843.7 1424.5 851C1429 858.3 1432.8 865.6 1437 873C1441.2 880.4 1445.5 888.8 1449.5 895.5C1453.5 902.2 1456.8 907.7 1461 913C1465.2 918.3 1469.3 923.4 1474.5 927.5C1479.7 931.6 1485.8 934.6 1492 937.5C1498.2 940.4 1504.5 942.4 1512 945C1519.5 947.6 1528.7 950.5 1537 953C1545.3 955.5 1554.5 958.1 1562 960C1569.5 961.9 1575.8 963.3 1582 964.5C1588.2 965.7 1594.3 966.7 1599.5 967C1604.7 967.3 1609.1 966.9 1613 966.5C1616.9 966.1 1621.3 964.8 1623 964.5" fill="none" stroke="#8c9aa0" stroke-width="2" stroke-linecap="round" />
<path d="M952.5 914.5C960.4 914.8 983.2 915.7 1000 916.3C1016.8 916.9 1035.8 917.5 1053 918C1070.2 918.5 1086.3 919 1103 919.5C1119.7 920 1136.3 920.2 1153 921C1169.7 921.8 1186.3 923.2 1203 924.5C1219.7 925.8 1239.3 927.8 1253 929C1266.7 930.2 1275.2 931 1285 932C1294.8 933 1303.3 934 1312 935C1320.7 936 1328.7 936.9 1337 938C1345.3 939.1 1353.7 940.1 1362 941.5C1370.3 942.9 1378.7 944.7 1387 946.5C1395.3 948.3 1403.7 950.4 1412 952.5C1420.3 954.6 1428.7 956.9 1437 959C1445.3 961.1 1453.7 963.1 1462 965C1470.3 966.9 1478.7 968.8 1487 970.5C1495.3 972.2 1503.7 973.8 1512 975C1520.3 976.2 1528.7 976.8 1537 977.5C1545.3 978.2 1551.5 978.8 1562 979C1572.5 979.2 1587.5 979.2 1600 979C1612.5 978.8 1625.3 978.4 1637 978C1648.7 977.6 1659.6 977 1670 976.5C1680.4 976 1692.3 975.2 1699.5 975C1706.7 974.8 1708.8 975.3 1713 975.5C1717.2 975.7 1721.2 976.2 1724.5 976C1727.8 975.8 1731.6 974.8 1733 974.5" fill="none" stroke="#8c9aa0" stroke-width="2" stroke-linecap="round" />
<path d="M961.8 965.5C969 966 989.8 967.6 1005 968.5C1020.2 969.4 1036.7 970.2 1053 971C1069.3 971.8 1086.3 972.8 1103 973.5C1119.7 974.2 1136.3 974.7 1153 975C1169.7 975.3 1186.3 975.2 1203 975.5C1219.7 975.8 1239.3 976 1253 976.5C1266.7 977 1275.2 977.8 1285 978.5C1294.8 979.2 1303.3 980 1312 981C1320.7 982 1328.7 983.2 1337 984.5C1345.3 985.8 1353.7 987.3 1362 989C1370.3 990.7 1378.7 992.7 1387 994.5C1395.3 996.3 1403.7 998.2 1412 1000C1420.3 1001.8 1428.7 1003.8 1437 1005.5C1445.3 1007.2 1453.7 1008.7 1462 1010C1470.3 1011.3 1478.7 1012.6 1487 1013.5C1495.3 1014.4 1503.7 1014.9 1512 1015.5C1520.3 1016.1 1528.7 1016.6 1537 1017C1545.3 1017.4 1551.5 1017.8 1562 1018C1572.5 1018.2 1587.5 1018.1 1600 1018C1612.5 1017.9 1625.3 1017.8 1637 1017.5C1648.7 1017.2 1659.6 1016.6 1670 1016C1680.4 1015.4 1691.2 1014.6 1699.5 1014C1707.8 1013.4 1713.8 1013.1 1720 1012.5C1726.2 1011.9 1734.2 1010.8 1737 1010.5" fill="none" stroke="#8c9aa0" stroke-width="2" stroke-linecap="round" />
<path d="M1325.8 685C1328.7 683.3 1337 678.3 1343 675C1349 671.7 1354.7 668.4 1362 665C1369.3 661.6 1378.7 657.8 1387 654.5C1395.3 651.2 1403.7 647.8 1412 645C1420.3 642.2 1428.7 639.6 1437 637.5C1445.3 635.4 1454.7 633.2 1462 632.5C1469.3 631.8 1474.8 632.2 1481 633C1487.2 633.8 1493.3 635.7 1499.5 637.5C1505.7 639.3 1511.8 641.8 1518 644C1524.2 646.2 1529.7 648.7 1537 651C1544.3 653.3 1553.7 655.8 1562 658C1570.3 660.2 1578.7 662.3 1587 664C1595.3 665.7 1603.7 666.8 1612 668C1620.3 669.2 1628.7 670.2 1637 671C1645.3 671.8 1653.7 672.5 1662 673C1670.3 673.5 1679.8 674 1687 674C1694.2 674 1699 673.7 1705 673C1711 672.3 1720 670.5 1723 670" fill="none" stroke="#8c9aa0" stroke-width="2" stroke-linecap="round" />
<path d="M1335.8 692.5C1339 690.9 1348.5 686.1 1355 683C1361.5 679.9 1367 677.2 1374.5 674C1382 670.8 1391.7 667.2 1400 664C1408.3 660.8 1416.8 657.5 1424.5 655C1432.2 652.5 1438.9 650.7 1446 649C1453.1 647.3 1460.8 645.7 1467 645C1473.2 644.3 1477.6 644.6 1483 645C1488.4 645.4 1493.7 646 1499.5 647.5C1505.3 649 1511.8 651.8 1518 654C1524.2 656.2 1529.7 658.6 1537 661C1544.3 663.4 1553.7 666.2 1562 668.5C1570.3 670.8 1578.7 672.7 1587 674.5C1595.3 676.3 1603.7 678.1 1612 679.5C1620.3 680.9 1628.7 682.2 1637 683C1645.3 683.8 1653.7 684.2 1662 684.5C1670.3 684.8 1679.8 685.2 1687 685C1694.2 684.8 1699.4 684.4 1705 683.5C1710.6 682.6 1718.2 680.2 1720.8 679.5" fill="none" stroke="#8c9aa0" stroke-width="2" stroke-linecap="round" />
<path d="M1278 714C1274.7 716.5 1264.7 723.8 1258 729C1251.3 734.2 1244.7 739.8 1238 745C1231.3 750.2 1224.2 755.5 1218 760.5C1211.8 765.5 1206.8 770 1200.5 775C1194.2 780 1186.7 785.1 1180 790.5C1173.3 795.9 1165.5 801.2 1160.5 807.5C1155.5 813.8 1152.9 820.9 1150 828C1147.1 835.1 1145.3 843.2 1143 850C1140.7 856.8 1138.1 862.8 1136 869C1133.9 875.2 1131.8 882.5 1130.5 887.5C1129.2 892.5 1128.5 895.6 1128 899C1127.5 902.4 1127.6 906.5 1127.5 908" fill="none" stroke="#8c9aa0" stroke-width="2" stroke-linecap="round" />
<path d="M1300.5 730C1297.1 732.4 1287.1 739.5 1280 744.5C1272.9 749.5 1265 754.9 1258 760C1251 765.1 1245.3 770.3 1238 775C1230.7 779.7 1221.9 783.4 1214 788C1206.1 792.6 1196.5 797.7 1190.5 802.5C1184.5 807.3 1181.3 812 1178 817C1174.7 822 1173.2 826.3 1170.5 832.5C1167.8 838.7 1164.5 846.9 1162 854C1159.5 861.1 1158 868.8 1155.5 875C1153 881.2 1149.5 886 1147 891C1144.5 896 1141.2 901.2 1140.5 905C1139.8 908.8 1142.6 912.5 1143 914" fill="none" stroke="#8c9aa0" stroke-width="2" stroke-linecap="round" />
<ellipse cx="1353.7" cy="679.4" rx="11.5" ry="5" fill="none" stroke="#1296e0" stroke-width="1.9" transform="rotate(-40 1353.7 679.4)"/>
<ellipse cx="1386.3" cy="663.4" rx="11" ry="6.6" fill="none" stroke="#1296e0" stroke-width="1.9" transform="rotate(-35 1386.3 663.4)"/>
<ellipse cx="1425" cy="648.8" rx="10.5" ry="6.8" fill="none" stroke="#1296e0" stroke-width="1.9" transform="rotate(-22 1425 648.8)"/>
<ellipse cx="1463" cy="640.5" rx="10.5" ry="6.8" fill="none" stroke="#1296e0" stroke-width="1.9" transform="rotate(-3 1463 640.5)"/>
<ellipse cx="1493" cy="641.5" rx="8.7" ry="6.3" fill="none" stroke="#1296e0" stroke-width="1.9" transform="rotate(5 1493 641.5)"/>
<ellipse cx="1526.3" cy="653.4" rx="9" ry="4.6" fill="none" stroke="#1296e0" stroke-width="1.9" transform="rotate(12 1526.3 653.4)"/>
<ellipse cx="1556" cy="661" rx="9" ry="4.6" fill="none" stroke="#1296e0" stroke-width="1.9" transform="rotate(12 1556 661)"/>
<ellipse cx="1595" cy="670.5" rx="9" ry="4.8" fill="none" stroke="#1296e0" stroke-width="1.9" transform="rotate(8 1595 670.5)"/>
<ellipse cx="1644" cy="679" rx="9" ry="5" fill="none" stroke="#1296e0" stroke-width="1.9" transform="rotate(2 1644 679)"/>
<ellipse cx="1699" cy="679.5" rx="9" ry="5" fill="none" stroke="#1296e0" stroke-width="1.9"/>
<ellipse cx="1274.4" cy="739.4" rx="10.3" ry="6.4" fill="none" stroke="#1296e0" stroke-width="1.9" transform="rotate(-38 1274.4 739.4)"/>
<ellipse cx="1239" cy="760" rx="10.3" ry="6.4" fill="none" stroke="#1296e0" stroke-width="1.9" transform="rotate(-38 1239 760)"/>
<ellipse cx="1208.5" cy="784" rx="10.3" ry="6.4" fill="none" stroke="#1296e0" stroke-width="1.9" transform="rotate(-36 1208.5 784)"/>
<ellipse cx="1169" cy="815" rx="10.3" ry="6.4" fill="none" stroke="#1296e0" stroke-width="1.9" transform="rotate(-48 1169 815)"/>
<ellipse cx="1153" cy="859.5" rx="10.3" ry="6.4" fill="none" stroke="#1296e0" stroke-width="1.9" transform="rotate(-68 1153 859.5)"/>
<ellipse cx="1139" cy="891" rx="10.3" ry="6.4" fill="none" stroke="#1296e0" stroke-width="1.9" transform="rotate(-62 1139 891)"/>
<path d="M1333 692C1336.3 689.8 1346.1 683.1 1353 679C1359.9 674.9 1366.7 671 1374.5 667.5C1382.3 664 1391.7 660.9 1400 658C1408.3 655.1 1416.8 652.5 1424.5 650C1432.2 647.5 1439.6 644.9 1446 643C1452.4 641.1 1457.3 639.2 1463 638.5C1468.7 637.8 1473.9 637.6 1480 638.5C1486.1 639.4 1493.2 641.9 1499.5 644C1505.8 646.1 1511.8 648.8 1518 651C1524.2 653.2 1530.7 655.5 1537 657.5C1543.3 659.5 1549.8 661.3 1556 663C1562.2 664.7 1568.8 666.2 1574.5 667.5C1580.2 668.8 1584.6 669.6 1590 670.5C1595.4 671.4 1604.2 672.6 1607 673" fill="none" stroke="#fff" stroke-width="2.2" stroke-linecap="round" />
<path d="M1290.5 722.5C1286.8 725.2 1275.6 733 1268 738.5C1260.4 744 1252.9 749.6 1245 755.5C1237.1 761.4 1228.3 768.4 1220.5 774C1212.7 779.6 1205.1 783.8 1198 789C1190.9 794.2 1183.1 799.8 1178 805C1172.9 810.2 1170.4 814.6 1167.5 820C1164.6 825.4 1162.8 831.3 1160.5 837.5C1158.2 843.7 1155.6 850.8 1153.5 857C1151.4 863.2 1150.2 869.2 1148 875C1145.8 880.8 1142.5 886.8 1140 892C1137.5 897.2 1134.2 903.7 1133 906" fill="none" stroke="#fff" stroke-width="1.8" stroke-linecap="round" />
<path d="M1019 564C1024.2 566.3 1040.2 573.5 1050 578C1059.8 582.5 1069.2 586.8 1078 591C1086.8 595.2 1094.7 599 1103 603C1111.3 607 1119.7 611.1 1128 615C1136.3 618.9 1144.7 622.8 1153 626.5C1161.3 630.2 1169.7 633.8 1178 637.5C1186.3 641.2 1194.7 644.9 1203 648.5C1211.3 652.1 1220.5 656.2 1228 659C1235.5 661.8 1241.8 663.6 1248 665.5C1254.2 667.4 1260.3 668.6 1265.5 670.5C1270.7 672.4 1274.8 674.6 1279 677C1283.2 679.4 1286.5 681.8 1290.5 685C1294.5 688.2 1298.8 692.2 1303 696C1307.2 699.8 1312 704.5 1315.5 708C1319 711.5 1321.4 714.1 1324 717C1326.6 719.9 1329.8 724.1 1331 725.5" fill="none" stroke="#fff" stroke-width="3" stroke-linecap="round" />
<g fill="#a8a3e0" stroke="#7f9ca4" stroke-width="0.9">
<circle cx="1038.8" cy="785.5" r="5.0"/>
<circle cx="1090" cy="797" r="5.0"/>
<circle cx="1017" cy="819.5" r="5.0"/>
<circle cx="1054.5" cy="821" r="5.0"/>
<circle cx="1363" cy="822" r="5.0"/>
<circle cx="1351" cy="849" r="5.0"/>
<circle cx="1379" cy="844" r="5.0"/>
<circle cx="1394" cy="846" r="5.0"/>
<circle cx="1390.5" cy="867" r="5.0"/>
<circle cx="1372" cy="871.5" r="5.0"/>
<circle cx="1576" cy="823.5" r="5.0"/>
<circle cx="1592.5" cy="830.5" r="5.0"/>
<circle cx="1610" cy="831" r="5.0"/>
<circle cx="1595" cy="860" r="5.0"/>
<circle cx="1618" cy="857.5" r="5.0"/>
</g>
<ellipse cx="1001" cy="737.5" rx="28" ry="20.5" fill="#a8a3e0" stroke="#7f9ca4" stroke-width="0.8"/>
<ellipse cx="1089" cy="720.5" rx="32.5" ry="21" fill="#a8a3e0" stroke="#7f9ca4" stroke-width="0.8"/>
<ellipse cx="1170.5" cy="718" rx="34" ry="20.5" fill="#a8a3e0" stroke="#7f9ca4" stroke-width="0.8"/>
<ellipse cx="1329" cy="557" rx="21.3" ry="21" fill="#a8a3e0" stroke="#7f9ca4" stroke-width="0.8"/>
<ellipse cx="1581.5" cy="621" rx="26.5" ry="20.5" fill="#a8a3e0" stroke="#7f9ca4" stroke-width="0.8"/>
<ellipse cx="1667.8" cy="629.5" rx="32.5" ry="20.5" fill="#a8a3e0" stroke="#7f9ca4" stroke-width="0.8"/>
<ellipse cx="1459.5" cy="718" rx="31" ry="20.5" fill="#a8a3e0" stroke="#7f9ca4" stroke-width="0.8"/>
<ellipse cx="1658" cy="851" rx="22" ry="21" fill="#a8a3e0" stroke="#7f9ca4" stroke-width="0.8"/>
<polygon points="1055.9,539.4 1075.6,547.3 1077.7,542.2 1084,556 1069.9,561.7 1071.9,556.6 1052.1,548.6" fill="#ffe800" stroke="#8aa0a8" stroke-width="0.8"/>
<polygon points="1095.9,555.4 1115.6,563.3 1117.7,558.2 1124,572 1109.9,577.7 1111.9,572.6 1092.1,564.6" fill="#ffe800" stroke="#8aa0a8" stroke-width="0.8"/>
<polygon points="1182.8,593.3 1203.5,601.4 1205.5,596.2 1212,610 1198,615.8 1199.9,610.7 1179.2,602.7" fill="#ffe800" stroke="#8aa0a8" stroke-width="0.8"/>
<polygon points="1235.8,612.3 1256.5,620.4 1258.5,615.2 1265,629 1251,634.8 1252.9,629.7 1232.2,621.7" fill="#ffe800" stroke="#8aa0a8" stroke-width="0.8"/>
<polygon points="1025.6,606.3 1045.1,612.8 1046.9,607.6 1054,621 1040.2,627.5 1042,622.3 1022.4,615.7" fill="#ffe800" stroke="#8aa0a8" stroke-width="0.8"/>
<polygon points="1068.7,620.8 1089.4,628.5 1091.3,623.3 1098,637 1084,643 1085.9,637.9 1065.3,630.2" fill="#ffe800" stroke="#8aa0a8" stroke-width="0.8"/>
<polygon points="1175.8,667.9 1194.6,675.3 1196.6,670.2 1203,684 1188.9,689.7 1190.9,684.6 1172.2,677.1" fill="#ffe800" stroke="#8aa0a8" stroke-width="0.8"/>
<polygon points="1250.3,724.7 1232.5,736.8 1235.6,741.3 1220.6,738.8 1223.8,723.9 1226.9,728.5 1244.7,716.5" fill="#ffe800" stroke="#8aa0a8" stroke-width="0.8"/>
<polygon points="1209.8,752.9 1191.9,765.3 1195,769.8 1180,767.5 1183,752.6 1186.2,757.1 1204,744.7" fill="#ffe800" stroke="#8aa0a8" stroke-width="0.8"/>
<polygon points="1162.3,791.6 1144.4,804.1 1147.5,808.6 1132.5,806.3 1135.5,791.4 1138.7,795.9 1156.5,783.4" fill="#ffe800" stroke="#8aa0a8" stroke-width="0.8"/>
<polygon points="1135.3,834 1129.9,851 1135.1,852.7 1121.8,860 1115.1,846.3 1120.4,848 1125.7,831" fill="#ffe800" stroke="#8aa0a8" stroke-width="0.8"/>
<polygon points="1288.2,767.6 1272.2,781.1 1275.8,785.3 1260.6,784.4 1262.2,769.3 1265.8,773.5 1281.8,760" fill="#ffe800" stroke="#8aa0a8" stroke-width="0.8"/>
<polygon points="1245.9,797.1 1228.8,809.1 1231.9,813.6 1216.9,811.3 1219.9,796.4 1223,800.9 1240.1,788.9" fill="#ffe800" stroke="#8aa0a8" stroke-width="0.8"/>
<polygon points="1196.5,847.4 1190.7,864.9 1195.9,866.7 1182.5,873.8 1176,860.1 1181.2,861.8 1187.1,844.2" fill="#ffe800" stroke="#8aa0a8" stroke-width="0.8"/>
<polygon points="1320.3,656.8 1339.6,644.3 1336.6,639.7 1351.5,642.5 1348,657.3 1345,652.7 1325.7,665.2" fill="#ffe800" stroke="#8aa0a8" stroke-width="0.8"/>
<polygon points="1367.3,634.8 1386,622.7 1383.1,618.1 1398,621 1394.4,635.8 1391.5,631.2 1372.7,643.2" fill="#ffe800" stroke="#8aa0a8" stroke-width="0.8"/>
<polygon points="1419.6,615.2 1441.1,609.2 1439.6,603.9 1453,611 1445.3,624.1 1443.8,618.8 1422.4,624.8" fill="#ffe800" stroke="#8aa0a8" stroke-width="0.8"/>
<polygon points="1476.2,609.5 1498.2,610.5 1498.5,605 1509,616 1497.5,626 1497.8,620.5 1475.8,619.5" fill="#ffe800" stroke="#8aa0a8" stroke-width="0.8"/>
<polygon points="1362.9,699.3 1384,691.9 1382.2,686.7 1396,693 1389.1,706.5 1387.3,701.3 1366.1,708.7" fill="#ffe800" stroke="#8aa0a8" stroke-width="0.8"/>
<polygon points="1402.8,682.8 1424,675.1 1422.1,669.9 1436,676 1429.3,689.6 1427.4,684.5 1406.2,692.2" fill="#ffe800" stroke="#8aa0a8" stroke-width="0.8"/>
<polygon points="1461,667 1482,667 1482,661.5 1493,672 1482,682.5 1482,677 1461,677" fill="#ffe800" stroke="#8aa0a8" stroke-width="0.8"/>
<line x1="1195.5" y1="552.5" x2="1152.5" y2="615.2" stroke="#000" stroke-width="3.0"/>
<polygon points="1147.5,622.5 1149.6,610.6 1157.8,616.3" fill="#000"/>
<line x1="1000.5" y1="656" x2="1036.8" y2="603.2" stroke="#000" stroke-width="3.0"/>
<polygon points="1041.8,596 1039.7,607.9 1031.4,602.2" fill="#000"/>
<line x1="1363" y1="582" x2="1279.3" y2="650.4" stroke="#000" stroke-width="3.0"/>
<polygon points="1272.5,656 1277.9,645.2 1284.2,652.9" fill="#000"/>
<line x1="1568" y1="731" x2="1548" y2="676.3" stroke="#000" stroke-width="3.0"/>
<polygon points="1545,668 1553.5,676.6 1544.1,680" fill="#000"/>
<text x="1208" y="558" font-size="34" >GBPs</text>
<text x="885.5" y="687.5" font-size="34" >Crack initiation</text>
<text x="1382" y="577.5" font-size="34" >Main grain boundary</text>
<text x="1452" y="767.5" font-size="34" >Sub-grain boundary</text>
<text x="952.5" y="799" font-size="24" >MPt</text>
<text font-size="34" transform="translate(1222 878.8) rotate(-29.5)">Crack path</text>
</g>
<rect x="883.2" y="519.7" width="863" height="515.5" fill="none" stroke="#7d9ca6" stroke-width="1.4"/>
<rect x="878" y="513" width="115" height="103" fill="#fff"/>
<text x="891" y="593.2" font-size="75" >(d)</text>
<rect x="15.5" y="1040.8" width="861.4" height="508.2" fill="url(#ge)"/>
<g clip-path="url(#ce)">
<ellipse cx="169.4" cy="1135" rx="27" ry="18" fill="#2537ab" transform="rotate(25 169.4 1135)"/>
<ellipse cx="266" cy="1180" rx="29" ry="17.5" fill="#2537ab" transform="rotate(20 266 1180)"/>
<ellipse cx="327" cy="1213" rx="29" ry="17.5" fill="#2537ab" transform="rotate(22 327 1213)"/>
<ellipse cx="405" cy="1247" rx="29" ry="17.5" fill="#2537ab" transform="rotate(22 405 1247)"/>
<ellipse cx="461" cy="1304" rx="29" ry="17.5" fill="#2537ab" transform="rotate(28 461 1304)"/>
<ellipse cx="533.5" cy="1364.5" rx="28.5" ry="18" fill="#2537ab" transform="rotate(45 533.5 1364.5)"/>
<ellipse cx="580" cy="1439.5" rx="28.5" ry="18" fill="#2537ab" transform="rotate(45 580 1439.5)"/>
<ellipse cx="636" cy="1368" rx="29" ry="17" fill="#2537ab" transform="rotate(-2 636 1368)"/>
<ellipse cx="704.8" cy="1364.5" rx="29.5" ry="17" fill="#2537ab" transform="rotate(-2 704.8 1364.5)"/>
<ellipse cx="790" cy="1361" rx="29.5" ry="17" fill="#1a34a8" transform="rotate(-2 790 1361)"/>
<path d="M166 1087.5C173 1091.1 194 1101.9 208 1109C222 1116.1 234.7 1123.1 250 1130C265.3 1136.9 283.3 1143.8 300 1150.5C316.7 1157.2 334.2 1163.4 350 1170C365.8 1176.6 380.4 1182.9 395 1190C409.6 1197.1 426.2 1206 437.5 1212.5C448.8 1219 454.6 1223.2 463 1229C471.4 1234.8 479.8 1240.7 488 1247.5C496.2 1254.3 504.5 1262.1 512 1270C519.5 1277.9 527 1287.3 533 1295C539 1302.7 543 1308.9 548 1316C553 1323.1 558.2 1329.5 563 1337.5C567.8 1345.5 572.4 1355.2 577 1364C581.6 1372.8 586.5 1383.4 590.5 1390C594.5 1396.6 597.2 1399.3 601 1403.5C604.8 1407.7 608.2 1411.3 613 1415C617.8 1418.7 623.8 1422.2 630 1425.5C636.2 1428.8 643 1432 650.5 1435C658 1438 666.7 1441 675 1443.5C683.3 1446 693.3 1448.3 700.5 1450C707.7 1451.7 712.6 1452.8 718 1453.5C723.4 1454.2 728.7 1454.5 733 1454.5C737.3 1454.5 740.9 1454.1 744 1453.5C747.1 1452.9 750.5 1451.4 751.8 1451" fill="none" stroke="#8c9aa0" stroke-width="2.4" stroke-linecap="round" />
<path d="M101 1150.5C107.2 1153.1 125.7 1160.7 138 1166C150.3 1171.3 162.7 1176.7 175 1182.5C187.3 1188.3 199.5 1194.6 212 1201C224.5 1207.4 237.3 1214.8 250 1221C262.7 1227.2 275.5 1232.8 288 1238.5C300.5 1244.2 312.7 1249.1 325 1255C337.3 1260.9 349.5 1267.3 362 1274C374.5 1280.7 390.3 1289 400 1295C409.7 1301 413.7 1304.6 420 1310C426.3 1315.4 431.8 1321.7 438 1327.5C444.2 1333.3 450.8 1339.2 457 1345C463.2 1350.8 469.7 1356 475.5 1362.5C481.3 1369 486.6 1376.5 492 1384C497.4 1391.5 503.2 1399.5 508 1407.5C512.8 1415.5 516.8 1423.7 521 1432C525.2 1440.3 529.2 1450.2 533 1457.5C536.8 1464.8 540.2 1470.2 544 1476C547.8 1481.8 551.2 1487.8 555.5 1492.5C559.8 1497.2 564.6 1500.7 570 1504C575.4 1507.3 581 1509.8 588 1512.5C595 1515.2 603.7 1518 612 1520.5C620.3 1523 629.7 1525.6 638 1527.5C646.3 1529.4 654.5 1531 662 1532C669.5 1533 677.7 1533.7 683 1533.8C688.3 1533.9 690.7 1533.1 694 1532.5C697.3 1531.9 701.5 1530.4 703 1530" fill="none" stroke="#8c9aa0" stroke-width="2.4" stroke-linecap="round" />
<path d="M564.3 1338C570.2 1337.9 587.7 1337.8 600 1337.5C612.3 1337.2 625.5 1336.7 638 1336C650.5 1335.3 662.5 1334.5 675 1333.5C687.5 1332.5 700.5 1331.2 713 1330C725.5 1328.8 737.5 1327.5 750 1326C762.5 1324.5 775.5 1322.7 788 1321C800.5 1319.3 813.3 1317.5 825 1316C836.7 1314.5 852.5 1312.7 858 1312" fill="none" stroke="#8c9aa0" stroke-width="2.4" stroke-linecap="round" />
<path d="M590.5 1390.8C596.2 1391 612.9 1391.6 625 1392C637.1 1392.4 650.5 1392.6 663 1393C675.5 1393.4 687.5 1394.2 700 1394.5C712.5 1394.8 726.3 1395.2 738 1395C749.7 1394.8 759.6 1394.4 770 1393.5C780.4 1392.6 792.2 1390.7 800.5 1389.5C808.8 1388.3 813.8 1387.6 820 1386.5C826.2 1385.4 832.7 1384.1 838 1383C843.3 1381.9 849.5 1380.5 851.8 1380" fill="none" stroke="#8c9aa0" stroke-width="2.4" stroke-linecap="round" />
<path d="M221 1108C225 1106.8 236.5 1103.2 245 1100.5C253.5 1097.8 262.8 1094.9 272 1091.5C281.2 1088.1 292 1083.6 300 1080C308 1076.4 313.8 1073.3 320 1070C326.2 1066.7 332.5 1062.8 337.5 1060C342.5 1057.2 346.1 1054.8 350 1053C353.9 1051.2 359.2 1050.1 361 1049.5" fill="none" stroke="#8c9aa0" stroke-width="2.4" stroke-linecap="round" />
<path d="M252.5 1121C257.4 1119.5 272 1115.3 282 1112C292 1108.7 304 1104.7 312.5 1101C321 1097.3 326.8 1093.9 333 1090C339.2 1086.1 344.5 1081.7 350 1077.5C355.5 1073.3 361 1069.1 366 1065C371 1060.9 377.7 1055 380 1053" fill="none" stroke="#8c9aa0" stroke-width="2.4" stroke-linecap="round" />
<path d="M170 1182.5C167.5 1184.8 160 1191.4 155 1196C150 1200.6 144.7 1205.2 140 1210C135.3 1214.8 130.8 1220 127 1225C123.2 1230 120.2 1234.8 117.5 1240C114.8 1245.2 112.7 1250.6 111 1256C109.3 1261.4 108.2 1267.7 107.5 1272.5C106.8 1277.3 107 1281.2 107 1285C107 1288.8 106.8 1289.2 107.5 1295C108.2 1300.8 109.8 1311.7 111 1320C112.2 1328.3 114.6 1335.7 115 1345C115.4 1354.3 114.3 1365.6 113.5 1376C112.7 1386.4 111.2 1396.8 110 1407.5C108.8 1418.2 107.5 1429.6 106.5 1440C105.5 1450.4 104.6 1460.7 103.8 1470C103 1479.3 102.1 1487.7 101.5 1496C100.9 1504.3 100.1 1513.2 100 1520C99.9 1526.8 100.4 1532 101 1537C101.6 1542 103.3 1547.8 103.8 1550" fill="none" stroke="#8c9aa0" stroke-width="2.4" stroke-linecap="round" />
<path d="M205 1200C202.5 1201.2 195 1204.5 190 1207C185 1209.5 179.3 1212.1 175 1215C170.7 1217.9 167.3 1221.2 164 1224.5C160.7 1227.8 157.3 1231.2 155 1235C152.7 1238.8 151.2 1242.8 150 1247C148.8 1251.2 148.2 1254.8 147.5 1260C146.8 1265.2 146.4 1272.2 146 1278C145.6 1283.8 145 1288 145 1295C145 1302 145.8 1311.7 146 1320C146.2 1328.3 146.2 1335.7 146 1345C145.8 1354.3 145.4 1365.6 145 1376C144.6 1386.4 144.4 1396.8 143.8 1407.5C143.2 1418.2 142.3 1429.6 141.5 1440C140.7 1450.4 139.6 1460.7 138.8 1470C138.1 1479.3 137.5 1487.7 137 1496C136.5 1504.3 136 1513 136 1520C136 1527 136.5 1532.4 137 1538C137.5 1543.6 138.5 1551.2 138.8 1553.8" fill="none" stroke="#8c9aa0" stroke-width="2.4" stroke-linecap="round" />
<ellipse cx="266.3" cy="1108.8" rx="11" ry="5.8" fill="none" stroke="#1296e0" stroke-width="2.8" transform="rotate(-39 266.3 1108.8)"/>
<ellipse cx="293" cy="1097.5" rx="11" ry="5.8" fill="none" stroke="#1296e0" stroke-width="2.8" transform="rotate(-42 293 1097.5)"/>
<ellipse cx="320.8" cy="1085" rx="11" ry="5.8" fill="none" stroke="#1296e0" stroke-width="2.8" transform="rotate(-43 320.8 1085)"/>
<ellipse cx="348.8" cy="1065" rx="11" ry="5.8" fill="none" stroke="#1296e0" stroke-width="2.8" transform="rotate(-46 348.8 1065)"/>
<ellipse cx="176" cy="1200" rx="11" ry="6" fill="none" stroke="#1296e0" stroke-width="2.8" transform="rotate(-50 176 1200)"/>
<ellipse cx="149.4" cy="1222.5" rx="11" ry="6" fill="none" stroke="#1296e0" stroke-width="2.8" transform="rotate(-53 149.4 1222.5)"/>
<ellipse cx="132.5" cy="1255" rx="11" ry="6" fill="none" stroke="#1296e0" stroke-width="2.8" transform="rotate(-56 132.5 1255)"/>
<ellipse cx="126.3" cy="1290" rx="11" ry="6" fill="none" stroke="#1296e0" stroke-width="2.8" transform="rotate(-54 126.3 1290)"/>
<ellipse cx="128.8" cy="1319.5" rx="11" ry="6" fill="none" stroke="#1296e0" stroke-width="2.8" transform="rotate(-54 128.8 1319.5)"/>
<ellipse cx="130.5" cy="1358.8" rx="11" ry="6" fill="none" stroke="#1296e0" stroke-width="2.8" transform="rotate(-56 130.5 1358.8)"/>
<ellipse cx="130" cy="1400" rx="11" ry="6" fill="none" stroke="#1296e0" stroke-width="2.8" transform="rotate(-56 130 1400)"/>
<ellipse cx="124" cy="1439.5" rx="11" ry="6" fill="none" stroke="#1296e0" stroke-width="2.8" transform="rotate(-56 124 1439.5)"/>
<ellipse cx="123" cy="1468" rx="11" ry="6" fill="none" stroke="#1296e0" stroke-width="2.8" transform="rotate(-56 123 1468)"/>
<ellipse cx="117.5" cy="1505.5" rx="11" ry="6" fill="none" stroke="#1296e0" stroke-width="2.8" transform="rotate(-56 117.5 1505.5)"/>
<polygon points="94.3,1149.8 113.6,1157.3 115.6,1152.2 122,1166 107.9,1171.8 109.9,1166.7 90.7,1159.2" fill="#ffe800" stroke="#8aa0a8" stroke-width="0.8"/>
<polygon points="127.9,1162.9 147.6,1170.8 149.7,1165.7 156,1179.5 141.9,1185.2 143.9,1180.1 124.1,1172.1" fill="#ffe800" stroke="#8aa0a8" stroke-width="0.8"/>
<polygon points="137.7,1194.4 123.2,1209.9 127.2,1213.6 112,1214.5 111.9,1199.3 115.9,1203.1 130.3,1187.6" fill="#ffe800" stroke="#8aa0a8" stroke-width="0.8"/>
<polygon points="108.8,1236.5 103,1255.4 108.3,1257 95,1264.5 88.2,1250.9 93.4,1252.5 99.2,1233.5" fill="#ffe800" stroke="#8aa0a8" stroke-width="0.8"/>
<polygon points="97.9,1285.7 93.4,1304.5 98.8,1305.7 86,1314 78.3,1300.9 83.7,1302.1 88.1,1283.3" fill="#ffe800" stroke="#8aa0a8" stroke-width="0.8"/>
<polygon points="98.8,1328.9 92.9,1348.4 98.2,1350 85,1357.5 78.1,1343.9 83.4,1345.5 89.2,1326.1" fill="#ffe800" stroke="#8aa0a8" stroke-width="0.8"/>
<polygon points="98.8,1380.8 93.6,1399.6 98.9,1401 85.8,1408.8 78.7,1395.4 83.9,1396.9 89.2,1378.2" fill="#ffe800" stroke="#8aa0a8" stroke-width="0.8"/>
<polygon points="194.7,1222.4 181.1,1237.2 185.2,1241 170,1242 169.7,1226.8 173.7,1230.5 187.3,1215.6" fill="#ffe800" stroke="#8aa0a8" stroke-width="0.8"/>
<polygon points="180.8,1260.4 175.4,1278.9 180.7,1280.4 167.5,1288 160.5,1274.5 165.8,1276 171.2,1257.6" fill="#ffe800" stroke="#8aa0a8" stroke-width="0.8"/>
<polygon points="178.8,1310.6 176.3,1330.7 181.8,1331.4 170,1341 160.9,1328.8 166.4,1329.5 168.8,1309.4" fill="#ffe800" stroke="#8aa0a8" stroke-width="0.8"/>
<polygon points="170,1367.5 168.1,1387 173.5,1387.6 162,1397.5 152.6,1385.5 158.1,1386.1 160,1366.5" fill="#ffe800" stroke="#8aa0a8" stroke-width="0.8"/>
<polygon points="283.2,1123.3 303.9,1115.3 302,1110.2 316,1116 309.5,1129.8 307.5,1124.6 286.8,1132.7" fill="#ffe800" stroke="#8aa0a8" stroke-width="0.8"/>
<polygon points="329.2,1100.3 350.4,1092.2 348.5,1087.1 362.5,1093 356,1106.7 354,1101.6 332.8,1109.7" fill="#ffe800" stroke="#8aa0a8" stroke-width="0.8"/>
<polygon points="365.7,1077.9 386.9,1069.4 384.9,1064.3 399,1070 392.6,1083.8 390.6,1078.7 369.3,1087.1" fill="#ffe800" stroke="#8aa0a8" stroke-width="0.8"/>
<circle cx="851.5" cy="1379.6" r="2" fill="none" stroke="#8c9aa0" stroke-width="1.5"/>
<path d="M122.5 1107.5C127.1 1109.8 142.1 1117.4 150 1121.5C157.9 1125.6 165.7 1129.4 170 1132C174.3 1134.6 173.7 1135.4 176 1137C178.3 1138.6 180.6 1139.5 183.8 1141.5C187 1143.5 192.1 1146.7 195 1148.8C197.9 1150.9 199.7 1152 201 1154C202.3 1156 202.7 1158.3 202.8 1161C202.9 1163.7 202.4 1166.8 201.5 1170C200.6 1173.2 199.4 1176.4 197.5 1180C195.6 1183.6 192.9 1187.8 190 1191.5C187.1 1195.2 183.3 1199.2 180 1202.5C176.7 1205.8 173.3 1208.6 170 1211.5C166.7 1214.4 163.8 1217.2 160 1220C156.2 1222.8 151.2 1225.5 147 1228.5C142.8 1231.5 137.8 1234.8 135 1238C132.2 1241.2 131.2 1244.3 130 1248C128.8 1251.7 128.1 1255 127.5 1260C126.9 1265 126.7 1272.2 126.5 1278C126.3 1283.8 126.2 1288.8 126.5 1295C126.8 1301.2 127.6 1308.8 128 1315C128.4 1321.2 128.5 1326.3 128.8 1332.5C129.1 1338.7 129.8 1345.8 130 1352C130.2 1358.2 130.5 1364.3 130 1370C129.5 1375.7 128 1381 127 1386C126 1391 124.1 1396.3 123.8 1400C123.5 1403.7 124.4 1406.2 125 1408C125.6 1409.8 127.1 1410.5 127.5 1411" fill="none" stroke="#fff" stroke-width="1.6" stroke-linecap="round" />
<path d="M183.8 1141C189 1138.9 204 1132.9 215 1128.5C226 1124.1 240 1118.8 250 1114.5C260 1110.2 266.7 1106.6 275 1102.5C283.3 1098.4 292.5 1094 300 1090C307.5 1086 313.3 1082.4 320 1078.5C326.7 1074.6 333.3 1070.4 340 1066.5C346.7 1062.6 356.7 1056.9 360 1055" fill="none" stroke="#fff" stroke-width="1.6" stroke-linecap="round" />
<g fill="#a8a3e0" stroke="#7f9ca4" stroke-width="0.9">
<circle cx="37" cy="1167" r="5.0"/>
<circle cx="29" cy="1187" r="5.0"/>
<circle cx="62" cy="1186" r="5.0"/>
<circle cx="107" cy="1187" r="5.0"/>
<circle cx="41" cy="1252.5" r="5.0"/>
<circle cx="45" cy="1329.5" r="5.0"/>
<circle cx="21.5" cy="1369" r="5.0"/>
<circle cx="192" cy="1372.8" r="5.0"/>
<circle cx="45.8" cy="1472.5" r="5.0"/>
<circle cx="15.8" cy="1494" r="5.0"/>
<circle cx="70" cy="1490.8" r="5.0"/>
<circle cx="41.8" cy="1508" r="5.0"/>
<circle cx="50.8" cy="1515.8" r="5.0"/>
<circle cx="352.5" cy="1318" r="5.0"/>
<circle cx="322.5" cy="1339" r="5.0"/>
<circle cx="337.5" cy="1353.5" r="5.0"/>
<circle cx="358" cy="1353" r="5.0"/>
<circle cx="395" cy="1354.5" r="5.0"/>
<circle cx="303" cy="1368" r="5.0"/>
<circle cx="365" cy="1375.5" r="5.0"/>
<circle cx="419.5" cy="1372.8" r="5.0"/>
<circle cx="335" cy="1385.5" r="5.0"/>
<circle cx="391" cy="1390" r="5.0"/>
<circle cx="381" cy="1397.5" r="5.0"/>
<circle cx="401" cy="1399" r="5.0"/>
<circle cx="304.5" cy="1403.8" r="5.0"/>
<circle cx="360" cy="1407.8" r="5.0"/>
<circle cx="426" cy="1412" r="5.0"/>
<circle cx="274.5" cy="1425" r="5.0"/>
<circle cx="300.5" cy="1439.5" r="5.0"/>
<circle cx="347" cy="1440" r="5.0"/>
<circle cx="406.5" cy="1436" r="5.0"/>
<circle cx="429.5" cy="1454" r="5.0"/>
<circle cx="674.5" cy="1163.8" r="5.0"/>
<circle cx="746" cy="1168" r="5.0"/>
<circle cx="695.8" cy="1174" r="5.0"/>
<circle cx="720" cy="1181.8" r="5.0"/>
<circle cx="634" cy="1185" r="5.0"/>
<circle cx="604.5" cy="1193.5" r="5.0"/>
<circle cx="661" cy="1203" r="5.0"/>
<circle cx="690.5" cy="1207" r="5.0"/>
<circle cx="631" cy="1211.8" r="5.0"/>
<circle cx="743" cy="1214" r="5.0"/>
<circle cx="586.5" cy="1218.8" r="5.0"/>
<circle cx="705" cy="1221.5" r="5.0"/>
<circle cx="754" cy="1232.8" r="5.0"/>
<circle cx="680.5" cy="1241" r="5.0"/>
<circle cx="769" cy="1247.5" r="5.0"/>
<circle cx="732" cy="1250" r="5.0"/>
<circle cx="598.5" cy="1253.8" r="5.0"/>
<circle cx="650.8" cy="1262" r="5.0"/>
<circle cx="784" cy="1262" r="5.0"/>
<circle cx="568.5" cy="1275.5" r="5.0"/>
<circle cx="676.5" cy="1276.5" r="5.0"/>
<circle cx="723" cy="1277.5" r="5.0"/>
<circle cx="594.5" cy="1289" r="5.0"/>
<circle cx="640.8" cy="1290" r="5.0"/>
<circle cx="813" cy="1290.5" r="5.0"/>
<circle cx="614" cy="1307" r="5.0"/>
<circle cx="465" cy="1375" r="5.0"/>
<circle cx="474.8" cy="1378.8" r="5.0"/>
<circle cx="462" cy="1394" r="5.0"/>
</g>
<ellipse cx="310" cy="1281" rx="32" ry="20.5" fill="#a8a3e0" stroke="#7f9ca4" stroke-width="0.8"/>
<ellipse cx="558.8" cy="1170" rx="32.5" ry="21" fill="#a8a3e0" stroke="#7f9ca4" stroke-width="0.8"/>
<ellipse cx="489.8" cy="1445.8" rx="31" ry="21.5" fill="#a8a3e0" stroke="#7f9ca4" stroke-width="0.8" transform="rotate(-58 489.8 1445.8)"/>
<line x1="215" y1="1280" x2="246.8" y2="1198.2" stroke="#000" stroke-width="3.0"/>
<polygon points="250,1190 250.7,1202.1 241.4,1198.4" fill="#000"/>
<line x1="516" y1="1128.8" x2="431.9" y2="1196.5" stroke="#000" stroke-width="3.0"/>
<polygon points="425,1202 430.4,1191.2 436.7,1199" fill="#000"/>
<line x1="210" y1="1492" x2="152.5" y2="1457.1" stroke="#000" stroke-width="3.0"/>
<polygon points="145,1452.5 157,1453.9 151.8,1462.5" fill="#000"/>
<text x="99.8" y="1082.5" font-size="34" >Crack initiation</text>
<text x="495.5" y="1103" font-size="34" >Main grain boundary</text>
<text x="196" y="1299" font-size="34" >GBPs</text>
<text x="212" y="1535.5" font-size="34" >Sub-grain boundary</text>
<text x="782.5" y="1245.8" font-size="24" >MPt</text>
<text font-size="34" transform="translate(344.3 1159.5) rotate(-30)">Crack path</text>
<path d="M795.8 1279.5L798.6 1272.2L801.4 1279.5" fill="none" stroke="#fff" stroke-width="2.1"/>
</g>
<rect x="16.2" y="1041.5" width="860" height="506.8" fill="none" stroke="#7d9ca6" stroke-width="1.4"/>
<circle cx="15.8" cy="1494" r="5" fill="#a8a3e0" stroke="#7f9ca4" stroke-width="0.7"/>
<rect x="0" y="1036.5" width="122.5" height="97.3" fill="#fff"/>
<text x="19.3" y="1112" font-size="75" >(e)</text>
<rect x="881.9" y="1041" width="864.3" height="508.5" fill="url(#gf)"/>
<g clip-path="url(#cf)">
<ellipse cx="1056" cy="1130.5" rx="26" ry="19" fill="#0509b6" transform="rotate(20 1056 1130.5)"/>
<ellipse cx="1125.5" cy="1157" rx="26" ry="19" fill="#0509b6" transform="rotate(20 1125.5 1157)"/>
<ellipse cx="1194.5" cy="1193" rx="26" ry="19" fill="#0509b6" transform="rotate(22 1194.5 1193)"/>
<ellipse cx="1263.8" cy="1229.5" rx="26" ry="19" fill="#0509b6" transform="rotate(24 1263.8 1229.5)"/>
<ellipse cx="1345" cy="1283" rx="26" ry="19" fill="#0509b6" transform="rotate(30 1345 1283)"/>
<ellipse cx="1419" cy="1359.5" rx="25.5" ry="20" fill="#0509b6" transform="rotate(42 1419 1359.5)"/>
<ellipse cx="1491" cy="1453" rx="26" ry="19" fill="#0509b6" transform="rotate(24 1491 1453)"/>
<ellipse cx="1520" cy="1362.5" rx="26.5" ry="19" fill="#0509b6" transform="rotate(-3 1520 1362.5)"/>
<ellipse cx="1604" cy="1355.5" rx="26.5" ry="19" fill="#0509b6" transform="rotate(-3 1604 1355.5)"/>
<ellipse cx="1694.8" cy="1351" rx="26.5" ry="19" fill="#0509b6" transform="rotate(-3 1694.8 1351)"/>
<path d="M1049 1077.5C1055.2 1080.8 1073.5 1090.3 1086 1097C1098.5 1103.7 1109.3 1110.4 1124 1117.5C1138.7 1124.6 1157.3 1132.4 1174 1139.5C1190.7 1146.6 1208.3 1153.3 1224 1160C1239.7 1166.7 1253.4 1172.8 1268 1179.5C1282.6 1186.2 1300 1194.5 1311.5 1200.5C1323 1206.5 1328.6 1210.2 1337 1215.5C1345.4 1220.8 1353.8 1226.4 1362 1232.5C1370.2 1238.6 1378.7 1245.4 1386 1252C1393.3 1258.6 1399.6 1264.8 1406 1272C1412.4 1279.2 1419.3 1288.1 1424.5 1295C1429.7 1301.9 1433 1307.2 1437 1313.5C1441 1319.8 1444 1324.9 1448.3 1332.5C1452.6 1340.1 1458.2 1350.2 1463 1359C1467.8 1367.8 1473 1378.4 1477 1385C1481 1391.6 1483.2 1394.3 1487 1398.5C1490.8 1402.7 1494.5 1406.5 1499.5 1410C1504.5 1413.5 1510.8 1416.6 1517 1419.5C1523.2 1422.4 1529.5 1424.8 1537 1427.5C1544.5 1430.2 1553.7 1433.2 1562 1435.5C1570.3 1437.8 1580.2 1439.9 1587 1441.3C1593.8 1442.7 1598 1443.3 1603 1443.8C1608 1444.3 1613.2 1444.5 1617 1444.5C1620.8 1444.5 1623.3 1444.2 1626 1443.8C1628.7 1443.4 1632.1 1442.3 1633.3 1442" fill="none" stroke="#8c9aa0" stroke-width="2.2" stroke-linecap="round" />
<path d="M992.8 1133.8C999.5 1136.8 1019.5 1145.5 1033 1151.5C1046.5 1157.5 1060.8 1164.1 1074 1170C1087.2 1175.9 1099.5 1181.2 1112 1187C1124.5 1192.8 1136.5 1198.9 1149 1205C1161.5 1211.1 1174.5 1217.2 1187 1223.5C1199.5 1229.8 1210.5 1235.7 1224 1242.5C1237.5 1249.3 1253.4 1256.8 1268 1264.5C1282.6 1272.2 1299.8 1281.4 1311.5 1288.5C1323.2 1295.6 1329.6 1300.5 1338 1307C1346.4 1313.5 1355.2 1320.7 1362 1327.5C1368.8 1334.3 1373.6 1340.9 1379 1348C1384.4 1355.1 1389.8 1362.2 1394.5 1370C1399.2 1377.8 1403.3 1386.7 1407.5 1395C1411.7 1403.3 1415.7 1412.5 1419.5 1420C1423.3 1427.5 1426.8 1433.8 1430.5 1440C1434.2 1446.2 1437.6 1452.4 1442 1457.5C1446.4 1462.6 1451.6 1466.8 1457 1470.5C1462.4 1474.2 1467.5 1477 1474.5 1480C1481.5 1483 1490.7 1486 1499 1488.5C1507.3 1491 1516.3 1493 1524.5 1495C1532.7 1497 1540.5 1499.2 1548 1500.5C1555.5 1501.8 1563.7 1502.7 1569.5 1503C1575.3 1503.3 1578.8 1502.9 1583 1502.5C1587.2 1502.1 1592.6 1501.1 1594.5 1500.8" fill="none" stroke="#8c9aa0" stroke-width="2.2" stroke-linecap="round" />
<path d="M1449 1333.3C1455.3 1333.2 1474.4 1333.2 1487 1333C1499.6 1332.8 1512 1332.7 1524.5 1332C1537 1331.3 1549.5 1330.2 1562 1329C1574.5 1327.8 1587 1326.4 1599.5 1325C1612 1323.6 1624.5 1322.2 1637 1320.8C1649.5 1319.3 1662.3 1317.8 1674.5 1316.3C1686.7 1314.8 1698.3 1313.4 1710 1312C1721.7 1310.6 1738.8 1308.7 1744.5 1308" fill="none" stroke="#8c9aa0" stroke-width="2.2" stroke-linecap="round" />
<path d="M1478.3 1386.3C1484.1 1386.5 1501.1 1387.1 1513 1387.5C1524.9 1387.9 1537.2 1388.4 1549.5 1388.8C1561.8 1389.2 1574.5 1389.7 1587 1390C1599.5 1390.3 1613 1390.8 1624.5 1390.5C1636 1390.2 1645.6 1389.4 1656 1388.5C1666.4 1387.6 1678.7 1386.1 1687 1385C1695.3 1383.9 1699.8 1383 1706 1382C1712.2 1381 1718.9 1379.9 1724.5 1378.8C1730.1 1377.7 1737 1376 1739.5 1375.5" fill="none" stroke="#8c9aa0" stroke-width="2.2" stroke-linecap="round" />
<circle cx="1739.5" cy="1375" r="2" fill="none" stroke="#8c9aa0" stroke-width="1.5"/>
<path d="M1108.9 1102.8C1112.9 1101.5 1124.4 1098 1132.9 1095.3C1141.4 1092.5 1150.7 1089.7 1159.9 1086.3C1169.1 1082.9 1179.9 1078.4 1187.9 1074.8C1195.9 1071.2 1201.7 1068.1 1207.9 1064.8C1214.2 1061.5 1220.4 1057.6 1225.4 1054.8C1230.4 1052 1234 1049.5 1237.9 1047.8C1241.8 1046 1247.1 1044.9 1248.9 1044.3" fill="none" stroke="#8c9aa0" stroke-width="2.2" stroke-linecap="round" />
<path d="M1140.4 1115.8C1145.3 1114.3 1159.9 1110.1 1169.9 1106.8C1179.9 1103.5 1191.9 1099.5 1200.4 1095.8C1208.9 1092.1 1214.7 1088.7 1220.9 1084.8C1227.2 1080.9 1232.4 1076.5 1237.9 1072.3C1243.4 1068.1 1248.9 1063.9 1253.9 1059.8C1258.9 1055.7 1265.6 1049.8 1267.9 1047.8" fill="none" stroke="#8c9aa0" stroke-width="2.2" stroke-linecap="round" />
<path d="M1071.5 1171.3C1069.2 1172.3 1062.7 1174 1057.9 1177.3C1053.1 1180.5 1047.9 1186.2 1042.9 1190.8C1037.9 1195.4 1032.6 1200 1027.9 1204.8C1023.2 1209.6 1018.6 1214.8 1014.9 1219.8C1011.1 1224.8 1008.1 1229.6 1005.4 1234.8C1002.7 1240 1000.6 1245.4 998.9 1250.8C997.2 1256.2 996.1 1262.5 995.4 1267.3C994.7 1272.1 994.9 1276 994.9 1279.8C994.9 1283.5 994.7 1284 995.4 1289.8C996.1 1295.6 997.6 1306.5 998.9 1314.8C1000.1 1323.1 1002.5 1330.5 1002.9 1339.8C1003.3 1349.1 1002.2 1360.4 1001.4 1370.8C1000.6 1381.2 999.1 1391.6 997.9 1402.3C996.7 1413 995.4 1424.4 994.4 1434.8C993.4 1445.2 992.5 1455.5 991.7 1464.8C990.9 1474.1 990 1482.5 989.4 1490.8C988.8 1499.1 988 1508 987.9 1514.8C987.8 1521.6 988.3 1526.8 988.9 1531.8C989.5 1536.8 991.2 1542.6 991.7 1544.8" fill="none" stroke="#8c9aa0" stroke-width="2.2" stroke-linecap="round" />
<path d="M1096.5 1185C1095.9 1186.6 1096 1192 1092.9 1194.8C1089.8 1197.6 1082.9 1199.3 1077.9 1201.8C1072.9 1204.3 1067.2 1206.9 1062.9 1209.8C1058.6 1212.7 1055.2 1216 1051.9 1219.3C1048.6 1222.6 1045.2 1226 1042.9 1229.8C1040.6 1233.5 1039.2 1237.6 1037.9 1241.8C1036.7 1246 1036.1 1249.6 1035.4 1254.8C1034.7 1260 1034.3 1267 1033.9 1272.8C1033.5 1278.6 1032.9 1282.8 1032.9 1289.8C1032.9 1296.8 1033.7 1306.5 1033.9 1314.8C1034.1 1323.1 1034.1 1330.5 1033.9 1339.8C1033.7 1349.1 1033.3 1360.4 1032.9 1370.8C1032.5 1381.2 1032.3 1391.6 1031.7 1402.3C1031.1 1413 1030.2 1424.4 1029.4 1434.8C1028.6 1445.2 1027.5 1455.5 1026.7 1464.8C1026 1474.1 1025.4 1482.5 1024.9 1490.8C1024.4 1499.1 1023.9 1507.8 1023.9 1514.8C1023.9 1521.8 1024.4 1527.2 1024.9 1532.8C1025.4 1538.4 1026.4 1546 1026.7 1548.6" fill="none" stroke="#8c9aa0" stroke-width="2.2" stroke-linecap="round" />
<ellipse cx="1154.2" cy="1103.6" rx="11" ry="5.8" fill="none" stroke="#1296e0" stroke-width="2.8" transform="rotate(-39 1154.2 1103.6)"/>
<ellipse cx="1180.9" cy="1092.3" rx="11" ry="5.8" fill="none" stroke="#1296e0" stroke-width="2.8" transform="rotate(-42 1180.9 1092.3)"/>
<ellipse cx="1208.7" cy="1079.8" rx="11" ry="5.8" fill="none" stroke="#1296e0" stroke-width="2.8" transform="rotate(-43 1208.7 1079.8)"/>
<ellipse cx="1236.7" cy="1059.8" rx="11" ry="5.8" fill="none" stroke="#1296e0" stroke-width="2.8" transform="rotate(-46 1236.7 1059.8)"/>
<ellipse cx="1063.9" cy="1194.8" rx="11" ry="6" fill="none" stroke="#1296e0" stroke-width="2.8" transform="rotate(-50 1063.9 1194.8)"/>
<ellipse cx="1037.3" cy="1217.3" rx="11" ry="6" fill="none" stroke="#1296e0" stroke-width="2.8" transform="rotate(-53 1037.3 1217.3)"/>
<ellipse cx="1020.4" cy="1249.8" rx="11" ry="6" fill="none" stroke="#1296e0" stroke-width="2.8" transform="rotate(-56 1020.4 1249.8)"/>
<ellipse cx="1014.2" cy="1284.8" rx="11" ry="6" fill="none" stroke="#1296e0" stroke-width="2.8" transform="rotate(-54 1014.2 1284.8)"/>
<ellipse cx="1016.7" cy="1314.3" rx="11" ry="6" fill="none" stroke="#1296e0" stroke-width="2.8" transform="rotate(-54 1016.7 1314.3)"/>
<ellipse cx="1018.4" cy="1353.6" rx="11" ry="6" fill="none" stroke="#1296e0" stroke-width="2.8" transform="rotate(-56 1018.4 1353.6)"/>
<ellipse cx="1017.9" cy="1394.8" rx="11" ry="6" fill="none" stroke="#1296e0" stroke-width="2.8" transform="rotate(-56 1017.9 1394.8)"/>
<ellipse cx="1011.9" cy="1434.3" rx="11" ry="6" fill="none" stroke="#1296e0" stroke-width="2.8" transform="rotate(-56 1011.9 1434.3)"/>
<ellipse cx="1010.9" cy="1462.8" rx="11" ry="6" fill="none" stroke="#1296e0" stroke-width="2.8" transform="rotate(-56 1010.9 1462.8)"/>
<ellipse cx="1005.4" cy="1500.3" rx="11" ry="6" fill="none" stroke="#1296e0" stroke-width="2.8" transform="rotate(-56 1005.4 1500.3)"/>
<polygon points="982.2,1144.6 1001.5,1152.1 1003.5,1147 1009.9,1160.8 995.8,1166.6 997.8,1161.5 978.6,1154" fill="#ffe800" stroke="#8aa0a8" stroke-width="0.8"/>
<polygon points="1015.8,1157.7 1035.5,1165.6 1037.6,1160.5 1043.9,1174.3 1029.8,1180 1031.8,1174.9 1012,1166.9" fill="#ffe800" stroke="#8aa0a8" stroke-width="0.8"/>
<polygon points="1025.6,1189.2 1011.1,1204.7 1015.1,1208.4 999.9,1209.3 999.8,1194.1 1003.8,1197.9 1018.2,1182.4" fill="#ffe800" stroke="#8aa0a8" stroke-width="0.8"/>
<polygon points="996.7,1231.3 990.9,1250.2 996.2,1251.8 982.9,1259.3 976.1,1245.7 981.3,1247.3 987.1,1228.3" fill="#ffe800" stroke="#8aa0a8" stroke-width="0.8"/>
<polygon points="985.8,1280.5 981.3,1299.3 986.7,1300.5 973.9,1308.8 966.2,1295.7 971.6,1296.9 976,1278.1" fill="#ffe800" stroke="#8aa0a8" stroke-width="0.8"/>
<polygon points="986.7,1323.7 980.8,1343.2 986.1,1344.8 972.9,1352.3 966,1338.7 971.3,1340.3 977.1,1320.9" fill="#ffe800" stroke="#8aa0a8" stroke-width="0.8"/>
<polygon points="986.7,1375.6 981.5,1394.4 986.8,1395.8 973.7,1403.6 966.6,1390.2 971.8,1391.7 977.1,1373" fill="#ffe800" stroke="#8aa0a8" stroke-width="0.8"/>
<polygon points="1082.6,1217.2 1069,1232 1073.1,1235.8 1057.9,1236.8 1057.6,1221.6 1061.6,1225.3 1075.2,1210.4" fill="#ffe800" stroke="#8aa0a8" stroke-width="0.8"/>
<polygon points="1068.7,1255.2 1063.3,1273.7 1068.6,1275.2 1055.4,1282.8 1048.4,1269.3 1053.7,1270.8 1059.1,1252.4" fill="#ffe800" stroke="#8aa0a8" stroke-width="0.8"/>
<polygon points="1066.7,1305.4 1064.2,1325.5 1069.7,1326.2 1057.9,1335.8 1048.8,1323.6 1054.3,1324.3 1056.7,1304.2" fill="#ffe800" stroke="#8aa0a8" stroke-width="0.8"/>
<polygon points="1057.9,1362.3 1056,1381.8 1061.4,1382.4 1049.9,1392.3 1040.5,1380.3 1046,1380.9 1047.9,1361.3" fill="#ffe800" stroke="#8aa0a8" stroke-width="0.8"/>
<polygon points="1171.1,1118.1 1191.8,1110.1 1189.9,1105 1203.9,1110.8 1197.4,1124.6 1195.4,1119.4 1174.7,1127.5" fill="#ffe800" stroke="#8aa0a8" stroke-width="0.8"/>
<polygon points="1217.1,1095.1 1238.3,1087 1236.4,1081.9 1250.4,1087.8 1243.9,1101.5 1241.9,1096.4 1220.7,1104.5" fill="#ffe800" stroke="#8aa0a8" stroke-width="0.8"/>
<polygon points="1253.6,1072.7 1274.8,1064.2 1272.8,1059.1 1286.9,1064.8 1280.5,1078.6 1278.5,1073.5 1257.2,1081.9" fill="#ffe800" stroke="#8aa0a8" stroke-width="0.8"/>
<path d="M1007.9 1102.3C1012.5 1104.6 1027.5 1112.2 1035.4 1116.3C1043.3 1120.4 1051.1 1124.2 1055.4 1126.8C1059.7 1129.4 1059.1 1130.2 1061.4 1131.8C1063.7 1133.4 1066 1134.3 1069.2 1136.3C1072.4 1138.3 1077.5 1141.5 1080.4 1143.6C1083.3 1145.7 1085.1 1146.8 1086.4 1148.8C1087.7 1150.8 1088.1 1153.1 1088.2 1155.8C1088.3 1158.5 1087.8 1161.6 1086.9 1164.8C1086 1168 1084.8 1171.2 1082.9 1174.8C1081 1178.4 1078.3 1182.5 1075.4 1186.3C1072.5 1190 1068.7 1194 1065.4 1197.3C1062.1 1200.6 1058.7 1203.4 1055.4 1206.3C1052.1 1209.2 1049.2 1212 1045.4 1214.8C1041.6 1217.6 1036.6 1220.3 1032.4 1223.3C1028.2 1226.3 1023.2 1229.5 1020.4 1232.8C1017.6 1236 1016.6 1239.1 1015.4 1242.8C1014.1 1246.5 1013.5 1249.8 1012.9 1254.8C1012.3 1259.8 1012.1 1267 1011.9 1272.8C1011.7 1278.6 1011.6 1283.6 1011.9 1289.8C1012.1 1296 1013 1303.5 1013.4 1309.8C1013.8 1316 1013.9 1321.1 1014.2 1327.3C1014.5 1333.5 1015.2 1340.5 1015.4 1346.8C1015.6 1353 1015.9 1359.1 1015.4 1364.8C1014.9 1370.5 1013.4 1375.8 1012.4 1380.8C1011.4 1385.8 1009.5 1391.1 1009.2 1394.8C1008.9 1398.5 1009.8 1401 1010.4 1402.8C1011 1404.6 1012.5 1405.3 1012.9 1405.8" fill="none" stroke="#fff" stroke-width="1.6" stroke-linecap="round" />
<path d="M1071.7 1135.8C1076.9 1133.7 1091.9 1127.7 1102.9 1123.3C1113.9 1118.9 1127.9 1113.6 1137.9 1109.3C1147.9 1105 1154.6 1101.4 1162.9 1097.3C1171.2 1093.2 1180.4 1088.8 1187.9 1084.8C1195.4 1080.8 1201.2 1077.2 1207.9 1073.3C1214.6 1069.4 1221.2 1065.2 1227.9 1061.3C1234.6 1057.4 1244.6 1051.7 1247.9 1049.8" fill="none" stroke="#fff" stroke-width="1.6" stroke-linecap="round" />
<g fill="#a8a3e0" stroke="#7f9ca4" stroke-width="0.9">
<circle cx="924.8" cy="1162.5" r="5.0"/>
<circle cx="895" cy="1183.8" r="5.0"/>
<circle cx="949" cy="1180.5" r="5.0"/>
<circle cx="994" cy="1182" r="5.0"/>
<circle cx="929" cy="1248" r="5.0"/>
<circle cx="932.5" cy="1324.8" r="5.0"/>
<circle cx="909" cy="1364.5" r="5.0"/>
<circle cx="1079.3" cy="1368.5" r="5.0"/>
<circle cx="933.5" cy="1467.8" r="5.0"/>
<circle cx="903.5" cy="1488.8" r="5.0"/>
<circle cx="958" cy="1486.5" r="5.0"/>
<circle cx="929.3" cy="1503" r="5.0"/>
<circle cx="938" cy="1510.5" r="5.0"/>
<circle cx="1240" cy="1313.3" r="5.0"/>
<circle cx="1210" cy="1334.3" r="5.0"/>
<circle cx="1235.8" cy="1348.8" r="5.0"/>
<circle cx="1282.5" cy="1350.3" r="5.0"/>
<circle cx="1191.3" cy="1363.3" r="5.0"/>
<circle cx="1252.8" cy="1370.8" r="5.0"/>
<circle cx="1309" cy="1368.3" r="5.0"/>
<circle cx="1278.5" cy="1385.5" r="5.0"/>
<circle cx="1287.5" cy="1393.3" r="5.0"/>
<circle cx="1191.8" cy="1399" r="5.0"/>
<circle cx="1314" cy="1408" r="5.0"/>
<circle cx="1162" cy="1420.5" r="5.0"/>
<circle cx="1188" cy="1434.5" r="5.0"/>
<circle cx="1234.5" cy="1435.8" r="5.0"/>
<circle cx="1294.3" cy="1431.5" r="5.0"/>
<circle cx="1561.3" cy="1158.8" r="5.0"/>
<circle cx="1583.3" cy="1169.5" r="5.0"/>
<circle cx="1654.5" cy="1196.5" r="5.0"/>
<circle cx="1548.5" cy="1199" r="5.0"/>
<circle cx="1578" cy="1202" r="5.0"/>
<circle cx="1619" cy="1207.5" r="5.0"/>
<circle cx="1567.8" cy="1236.3" r="5.0"/>
<circle cx="1654" cy="1246.8" r="5.0"/>
<circle cx="1485.8" cy="1249.3" r="5.0"/>
<circle cx="1538" cy="1257.3" r="5.0"/>
<circle cx="1455.8" cy="1270.5" r="5.0"/>
<circle cx="1563.8" cy="1272" r="5.0"/>
<circle cx="1610.3" cy="1273.3" r="5.0"/>
<circle cx="1482" cy="1285" r="5.0"/>
<circle cx="1528.5" cy="1285.8" r="5.0"/>
<circle cx="1501.5" cy="1303" r="5.0"/>
<circle cx="1352.8" cy="1370" r="5.0"/>
<circle cx="1362" cy="1373.8" r="5.0"/>
<circle cx="1349.5" cy="1389.5" r="5.0"/>
<circle cx="1318.3" cy="1449.8" r="5.0"/>
</g>
<ellipse cx="1097.3" cy="1424.8" rx="32.5" ry="20.5" fill="#a8a3e0" stroke="#7f9ca4" stroke-width="0.8"/>
<ellipse cx="1397" cy="1181.8" rx="31" ry="21.5" fill="#a8a3e0" stroke="#7f9ca4" stroke-width="0.8" transform="rotate(-58 1397 1181.8)"/>
<line x1="1112.8" y1="1257" x2="1145.6" y2="1178.1" stroke="#000" stroke-width="3.0"/>
<polygon points="1149,1170 1149.4,1182.1 1140.2,1178.2" fill="#000"/>
<line x1="1403.3" y1="1123.8" x2="1320.1" y2="1192.4" stroke="#000" stroke-width="3.0"/>
<polygon points="1313.3,1198 1318.6,1187.1 1325,1194.9" fill="#000"/>
<line x1="1097.5" y1="1487.3" x2="1039.5" y2="1452.3" stroke="#000" stroke-width="3.0"/>
<polygon points="1032,1447.7 1044,1449.1 1038.8,1457.7" fill="#000"/>
<text x="995.8" y="1070" font-size="34" >Crack initiation</text>
<text x="1383.3" y="1098.8" font-size="34" >Main grain boundary</text>
<text x="1082.8" y="1297.5" font-size="34" >GBPs</text>
<text x="1122.8" y="1512.5" font-size="34" >Sub-grain boundary</text>
<text x="1670" y="1241.3" font-size="24" >MPt</text>
<text font-size="34" transform="translate(1230.7 1155.3) rotate(-30)">Crack path</text>
</g>
<rect x="882.6" y="1041.7" width="862.9" height="507.1" fill="none" stroke="#7d9ca6" stroke-width="1.4"/>
<rect x="878" y="1036.5" width="114.8" height="101" fill="#fff"/>
<text x="889.5" y="1116.3" font-size="75" >(f)</text>
</svg>
</body></html>
